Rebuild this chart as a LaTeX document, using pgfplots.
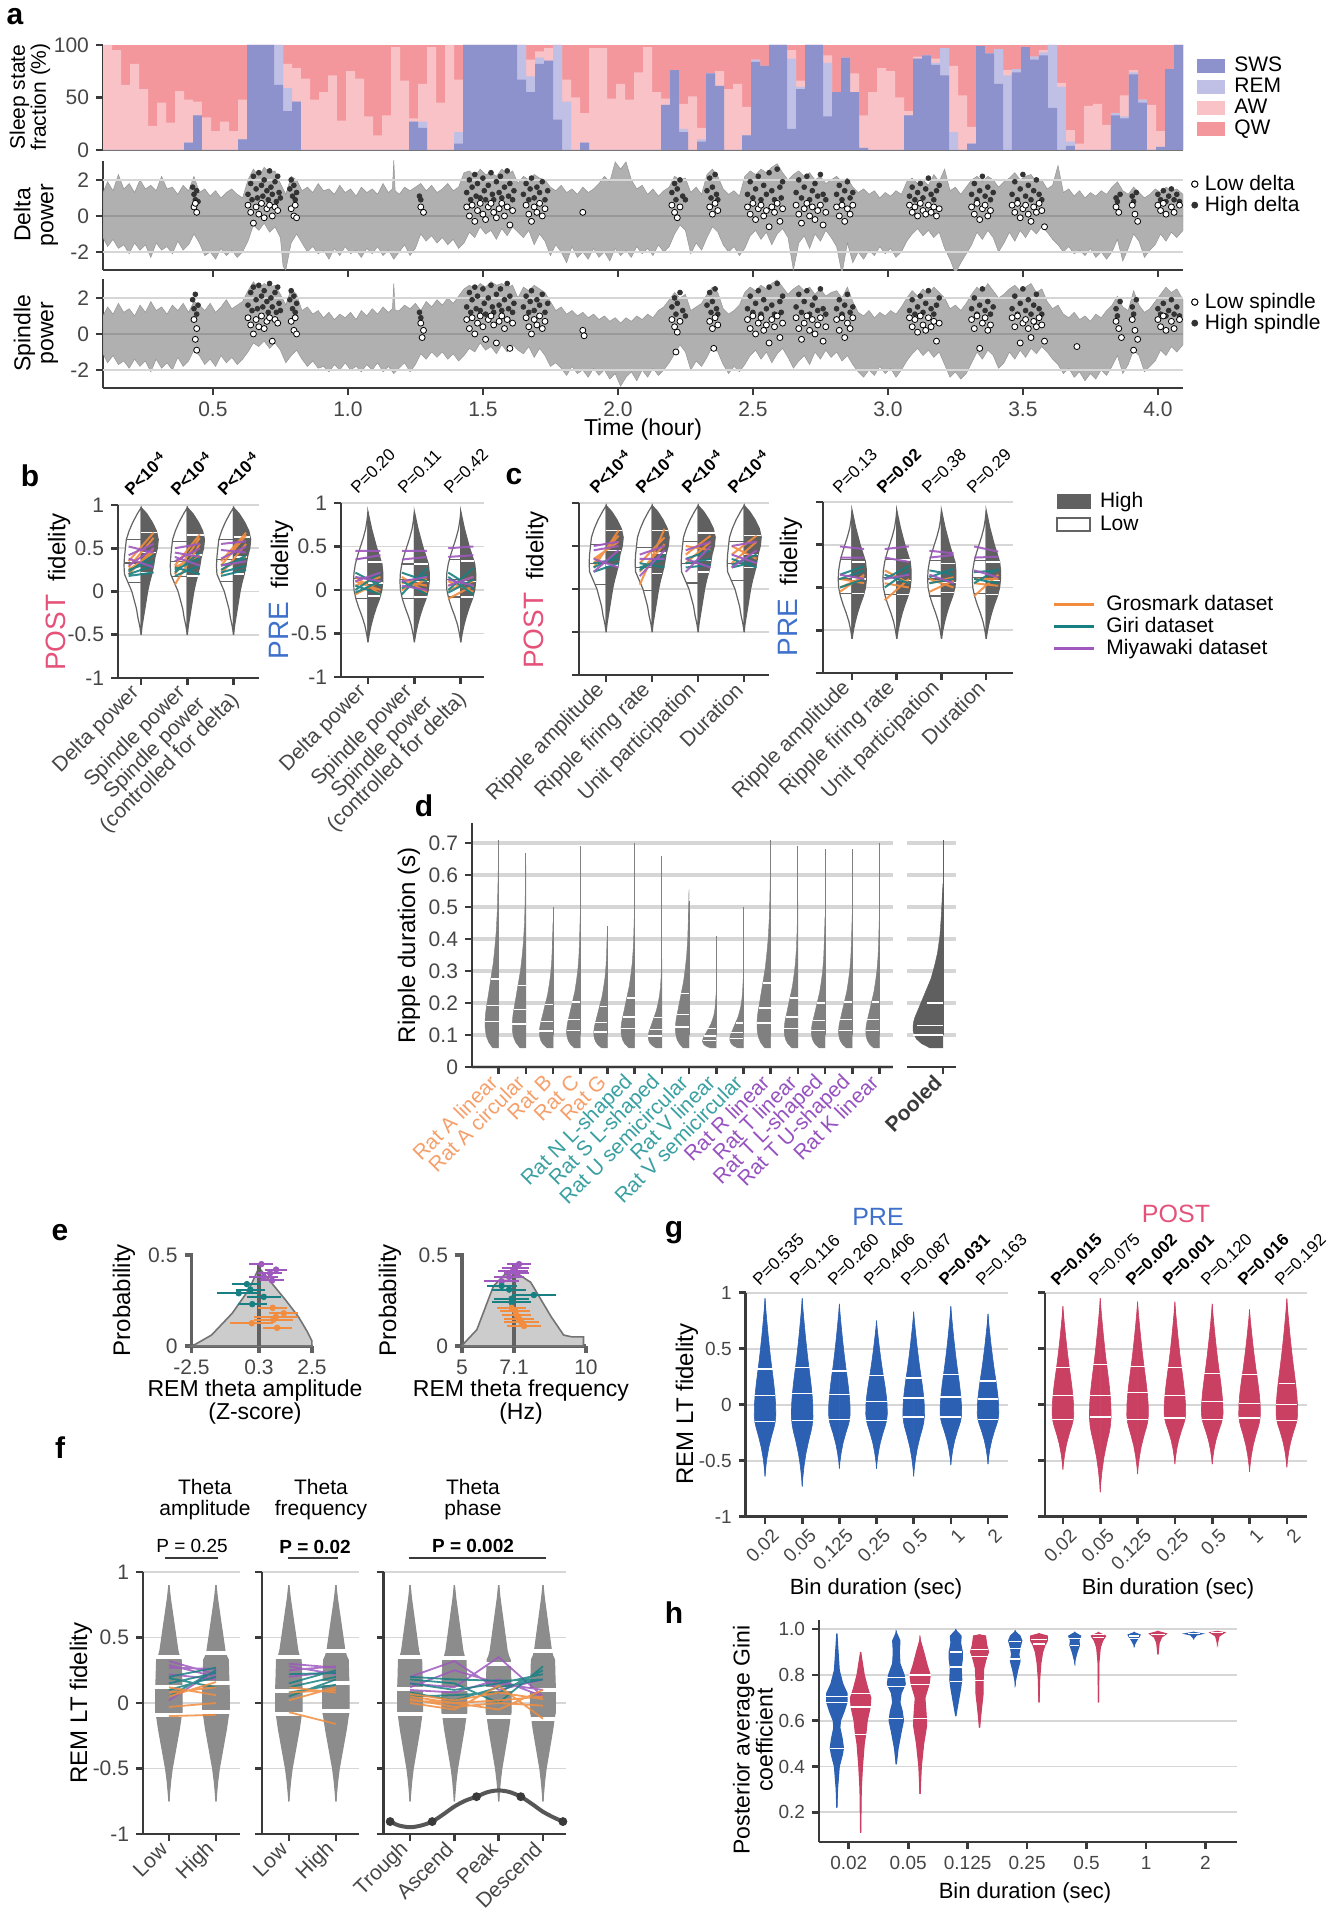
\documentclass[border=0pt]{standalone}
\usepackage{fontspec}
\setmainfont{Liberation Sans}
\setsansfont{Liberation Sans}
\usepackage{pgfplots}
\pgfplotsset{compat=1.18}
\usepackage{pgfplotstable}

\definecolor{sws}{RGB}{142,146,204}
\definecolor{rem}{RGB}{192,192,230}
\definecolor{aw}{RGB}{248,194,198}
\definecolor{qw}{RGB}{243,151,156}
\definecolor{trace}{RGB}{176,176,176}
\definecolor{axc}{RGB}{58,58,58}
\definecolor{gridc}{RGB}{214,214,214}
\definecolor{tickc}{RGB}{70,70,70}
\definecolor{orng}{RGB}{242,140,62}
\definecolor{dteal}{RGB}{24,128,130}
\definecolor{purp}{RGB}{158,88,190}
\definecolor{postc}{RGB}{228,82,122}
\definecolor{prec}{RGB}{62,112,204}
\definecolor{gblue}{RGB}{44,96,178}
\definecolor{gpink}{RGB}{202,64,98}
\definecolor{vdark}{RGB}{96,96,96}
\definecolor{vout}{RGB}{100,100,100}
\definecolor{dgrey}{RGB}{128,128,128}
\definecolor{pgrey}{RGB}{95,95,95}
\definecolor{fgrey}{RGB}{140,140,140}
\definecolor{egrey}{RGB}{204,204,204}
\definecolor{eout}{RGB}{115,115,115}
\definecolor{lorng}{RGB}{245,160,108}
\definecolor{lteal}{RGB}{58,160,162}
\definecolor{lpurp}{RGB}{150,82,192}

\newcommand{\fs}[1]{\fontsize{#1}{#1}\selectfont}

\pgfplotsset{
  /pgf/number format/assume math mode=true,
  base/.style={scale only axis, anchor=north west,
    axis x line*=bottom, axis y line*=left,
    axis line style={line width=1.4pt, draw=axc},
    tick style={line width=1.3pt, draw=axc},
    major tick length=3.5pt, tick align=outside,
    tick label style={font=\fs{10.5}, text=tickc},
    ymajorgrids, grid style={line width=0.8pt, draw=gridc},
    unbounded coords=jump, clip=false},
}

\newcommand{\vL}[4]{\addplot[fill=#3, draw=#4, line width=0.6pt] table[x expr=#1-\thisrow{w}, y=y] {#2} -- cycle;}
\newcommand{\vR}[4]{\addplot[fill=#3, draw=#4, line width=0.6pt] table[x expr=#1+\thisrow{w}, y=y] {#2} -- cycle;}
\newcommand{\vF}[3]{\vL{#1}{#2}{#3}{#3}\vR{#1}{#2}{#3}{#3}}
\newcommand{\gV}[4]{%
 \addplot[fill=#4, draw=#4, line width=0.3pt] table[x expr=#1-\thisrow{w}, y expr={ifthenelse(\thisrow{y}>0,\thisrow{y}*#2,-\thisrow{y}*(#3))}] {\gshape} -- cycle;
 \addplot[fill=#4, draw=#4, line width=0.3pt] table[x expr=#1+\thisrow{w}, y expr={ifthenelse(\thisrow{y}>0,\thisrow{y}*#2,-\thisrow{y}*(#3))}] {\gshape} -- cycle;}
\newcommand{\dV}[2]{\addplot[fill=dgrey, draw=dgrey, line width=0.2pt] table[x expr=#1-\thisrow{w}, y expr=0.06+#2*(\thisrow{y}-0.06)] {\dshape} -- cycle;}

% ---------- data ----------
\pgfplotstableread{
sws rem aw
0 0 100
0 0 95
0 0 62
0 0 82
0 0 58
0 0 23
0 0 45
0 0 26
0 0 56
7 7 48
33 33 46
0 0 31
0 0 18
0 0 27
0 0 18
10 10 48
100 100 100
100 100 100
100 100 100
62 100 100
37 59 82
46 46 78
0 0 68
0 0 48
0 0 55
0 0 71
0 0 28
0 0 75
0 0 68
0 0 32
0 0 14
0 0 33
0 0 98
0 0 66
27 27 30
21 27 63
0 0 98
0 0 45
0 0 100
6 17 67
100 100 100
100 100 100
100 100 100
100 100 100
100 100 100
100 100 100
67 100 100
55 70 86
82 88 94
85 85 97
29 100 100
0 46 67
0 0 50
7 7 35
0 0 97
0 0 97
0 0 49
0 0 63
0 0 48
0 0 74
0 0 98
0 0 55
43 43 49
76 76 76
17 20 44
0 0 51
8 10 21
73 73 73
61 61 75
0 0 58
0 0 63
14 14 41
84 86 86
80 80 80
100 100 100
100 100 100
20 87 95
58 60 66
100 100 100
100 100 100
32 83 90
55 55 55
88 88 88
55 55 73
2 2 33
0 0 55
0 0 78
0 0 75
0 0 50
33 33 37
87 87 89
90 90 90
81 83 87
71 97 97
0 17 80
0 0 52
6 6 22
99 99 99
92 92 92
63 96 96
0 71 76
74 77 77
98 98 98
86 89 89
90 93 95
40 100 100
0 60 64
4 8 19
0 0 6
0 0 42
0 0 44
0 0 24
33 35 35
30 32 52
72 74 76
45 48 48
0 0 43
3 3 18
77 77 77
100 100 100
100 100 100
}\sleep

\pgfplotstableread{
y w
0.97 0
0.90 0.08
0.80 0.18
0.70 0.26
0.60 0.32
0.50 0.34
0.40 0.36
0.30 0.37
0.20 0.36
0.10 0.28
0.00 0.20
-0.10 0.15
-0.20 0.10
-0.30 0.07
-0.40 0.03
-0.50 0
}\bpl
\pgfplotstableread{
y w
0.97 0
0.90 0.12
0.80 0.24
0.70 0.33
0.60 0.37
0.50 0.35
0.40 0.30
0.30 0.27
0.20 0.23
0.10 0.18
0.00 0.14
-0.10 0.11
-0.20 0.08
-0.30 0.05
-0.40 0.02
-0.50 0
}\bph
\pgfplotstableread{
y w
0.90 0
0.80 0.02
0.70 0.05
0.60 0.10
0.50 0.16
0.40 0.22
0.30 0.27
0.20 0.30
0.10 0.31
0.00 0.30
-0.10 0.26
-0.20 0.20
-0.30 0.13
-0.40 0.07
-0.50 0.03
-0.60 0
}\brl
\pgfplotstableread{
y w
0.90 0
0.80 0.04
0.70 0.08
0.60 0.13
0.50 0.18
0.40 0.24
0.30 0.30
0.20 0.32
0.10 0.32
0.00 0.30
-0.10 0.25
-0.20 0.18
-0.30 0.12
-0.40 0.07
-0.50 0.03
-0.60 0
}\brh
\pgfplotstableread{
y w
0.06 0
0.06 0.22
0.07 0.36
0.08 0.44
0.09 0.48
0.10 0.50
0.11 0.50
0.12 0.49
0.13 0.47
0.14 0.44
0.15 0.41
0.16 0.38
0.18 0.32
0.20 0.26
0.22 0.20
0.25 0.14
0.28 0.09
0.32 0.05
0.36 0.03
0.40 0.015
0.44 0
}\dshape
\pgfplotstableread{
y w
0.90 0
0.80 0.03
0.70 0.07
0.60 0.11
0.50 0.15
0.40 0.19
0.36 0.22
0.33 0.26
0.20 0.27
0.10 0.28
0.00 0.28
-0.07 0.28
-0.10 0.26
-0.20 0.22
-0.30 0.17
-0.40 0.12
-0.50 0.07
-0.60 0.035
-0.70 0.01
-0.75 0
}\fshape
\pgfplotstableread{
y w
1.0 0
0.9 0.02
0.8 0.045
0.65 0.085
0.5 0.13
0.38 0.17
0.3 0.2
0.2 0.235
0.1 0.265
0.0 0.285
-0.15 0.29
-0.25 0.27
-0.32 0.24
-0.45 0.17
-0.6 0.1
-0.75 0.05
-0.9 0.015
-1.0 0
}\gshape
\pgfplotstableread{
y w
0.22 0
0.30 0.01
0.40 0.04
0.45 0.09
0.48 0.11
0.52 0.09
0.57 0.05
0.60 0.06
0.64 0.12
0.68 0.17
0.72 0.17
0.76 0.10
0.82 0.04
0.90 0.02
0.98 0
}\hba
\pgfplotstableread{
y w
0.11 0
0.30 0.01
0.40 0.03
0.50 0.06
0.55 0.09
0.60 0.11
0.66 0.16
0.70 0.17
0.74 0.12
0.80 0.06
0.85 0.03
0.90 0
}\hpa
\pgfplotstableread{
y w
0.41 0
0.48 0.03
0.55 0.08
0.60 0.12
0.64 0.10
0.68 0.06
0.72 0.08
0.76 0.15
0.80 0.13
0.85 0.06
0.90 0.05
0.95 0.06
0.985 0
}\hbb
\pgfplotstableread{
y w
0.28 0
0.40 0.02
0.50 0.06
0.58 0.11
0.63 0.10
0.70 0.08
0.76 0.15
0.80 0.17
0.84 0.12
0.90 0.06
0.955 0
}\hpb
\pgfplotstableread{
y w
0.62 0
0.68 0.04
0.74 0.08
0.78 0.10
0.83 0.09
0.87 0.11
0.90 0.11
0.94 0.08
0.97 0.09
0.995 0
}\hbc
\pgfplotstableread{
y w
0.57 0
0.65 0.03
0.72 0.06
0.78 0.06
0.83 0.07
0.88 0.12
0.90 0.15
0.93 0.12
0.97 0.10
0.975 0
}\hpc
\pgfplotstableread{
y w
0.77 0
0.82 0.04
0.86 0.08
0.89 0.06
0.92 0.08
0.95 0.11
0.97 0.08
0.99 0
}\hbd
\pgfplotstableread{
y w
0.68 0
0.78 0.01
0.85 0.03
0.90 0.06
0.93 0.10
0.95 0.14
0.97 0.14
0.98 0
}\hpd
\pgfplotstableread{
y w
0.86 0
0.90 0.04
0.93 0.08
0.95 0.07
0.97 0.10
0.985 0
}\hbe
\pgfplotstableread{
y w
0.68 0
0.85 0.005
0.92 0.03
0.95 0.07
0.97 0.12
0.985 0
}\hpe
\pgfplotstableread{
y w
0.93 0
0.95 0.04
0.965 0.08
0.975 0.10
0.985 0
}\hbf
\pgfplotstableread{
y w
0.89 0
0.94 0.02
0.965 0.06
0.98 0.14
0.99 0
}\hpf
\pgfplotstableread{
y w
0.96 0
0.975 0.05
0.98 0.14
0.986 0
}\hbg
\pgfplotstableread{
y w
0.94 0
0.97 0.03
0.985 0.12
0.99 0
}\hpg

\begin{document}
\begin{tikzpicture}[x=0.5pt,y=-0.5pt]
\useasboundingbox (0,0) rectangle (1338,1920);

% ================= PANEL A =================
\begin{axis}[base, at={(51.5pt,-22.5pt)}, width=540pt, height=52.5pt,
  xmin=0.093, xmax=4.093, ymin=0, ymax=100, xtick=\empty, ytick={0,50,100},
  ymajorgrids=false, clip=true, x axis line style={line width=0.8pt, draw=axc!70},
  legend style={at={(1.0074,0.94)}, anchor=north west, draw=none, fill=none, font=\fs{10.5},
    row sep=0.5pt, column sep=4pt, nodes={inner sep=0.5pt, text height=7.5pt, text depth=1.5pt}},
  legend cell align=left,
  legend image code/.code={\fill[#1] (0pt,-3.5pt) rectangle (14pt,3.5pt);}]
\addlegendimage{fill=sws, draw=none}\addlegendentry{SWS}
\addlegendimage{fill=rem, draw=none}\addlegendentry{REM}
\addlegendimage{fill=aw, draw=none}\addlegendentry{AW}
\addlegendimage{fill=qw, draw=none}\addlegendentry{QW}
\addplot[fill=qw, draw=none] coordinates {(0.093,100) (4.1,100)} \closedcycle;
\addplot[fill=aw, draw=none, const plot mark left] table[x expr=0.093+\coordindex/30, y=aw] {\sleep} \closedcycle;
\addplot[fill=rem, draw=none, const plot mark left] table[x expr=0.093+\coordindex/30, y=rem] {\sleep} \closedcycle;
\addplot[fill=sws, draw=none, const plot mark left] table[x expr=0.093+\coordindex/30, y=sws] {\sleep} \closedcycle;
\end{axis}

\begin{axis}[base, at={(51.5pt,-80.5pt)}, width=540pt, height=54.5pt,
  xmin=0.093, xmax=4.093, ymin=-3, ymax=3.05,
  xtick={0.5,1.0,1.5,2.0,2.5,3.0,3.5,4.0}, xticklabels={}, ytick={-2,0,2}, yticklabels={-2,0,2},
  ymajorgrids=false, clip=true,
  legend style={at={(1.002,0.92)}, anchor=north west, draw=none, fill=none, font=\fs{10.5},
    row sep=0.5pt, column sep=3pt, nodes={inner sep=0.5pt, text height=7.5pt, text depth=1.5pt}},
  legend cell align=left]
\addlegendimage{only marks, mark=*, mark size=1.6pt, mark options={fill=white, draw=black, line width=0.5pt}}\addlegendentry{Low delta}
\addlegendimage{only marks, mark=*, mark size=1.5pt, black!80}\addlegendentry{High delta}
\addplot[fill=trace, draw=trace!85!black, line width=0.25pt] coordinates {
(0.093,1.3)(0.11,1.9)(0.13,1.4)(0.15,2.3)(0.17,1.5)(0.19,1.8)(0.21,1.3)(0.23,2.0)(0.25,1.5)(0.27,1.7)(0.29,1.4)(0.31,2.2)(0.33,1.5)(0.35,1.6)(0.37,1.2)(0.39,1.7)(0.41,1.4)(0.43,2.2)(0.45,1.3)(0.47,1.5)(0.49,1.1)(0.51,1.4)(0.53,1.0)(0.55,1.3)(0.57,1.5)(0.59,1.2)(0.61,1.0)(0.63,2.0)(0.65,2.6)(0.67,2.2)(0.69,2.7)(0.71,2.4)(0.73,2.5)(0.75,1.8)(0.77,1.2)(0.79,2.2)(0.81,2.0)(0.83,1.4)(0.85,1.6)(0.87,1.3)(0.89,1.8)(0.91,1.4)(0.93,1.5)(0.95,1.2)(0.97,1.7)(0.99,1.3)(1.01,1.5)(1.03,1.1)(1.05,1.6)(1.07,1.3)(1.09,1.5)(1.11,1.2)(1.13,1.8)(1.15,1.3)(1.165,1.5)(1.17,3.1)(1.175,1.4)(1.19,1.2)(1.21,1.6)(1.23,1.4)(1.25,1.6)(1.27,1.8)(1.29,1.4)(1.31,1.7)(1.33,1.3)(1.35,1.5)(1.37,1.8)(1.39,1.4)(1.41,1.6)(1.43,2.4)(1.45,2.5)(1.47,2.2)(1.49,2.6)(1.51,2.3)(1.53,2.4)(1.55,2.2)(1.57,2.6)(1.59,2.3)(1.61,2.5)(1.63,1.8)(1.65,2.2)(1.67,2.0)(1.69,2.3)(1.71,2.1)(1.73,2.0)(1.75,1.6)(1.77,1.4)(1.79,1.7)(1.81,1.3)(1.83,1.5)(1.85,1.2)(1.87,1.6)(1.89,1.3)(1.91,1.5)(1.93,1.8)(1.95,2.2)(1.97,1.9)(1.99,3.0)(2.01,2.6)(2.03,3.0)(2.05,2.0)(2.07,1.5)(2.09,1.7)(2.11,1.2)(2.13,1.5)(2.15,1.1)(2.17,1.4)(2.19,1.6)(2.21,2.2)(2.23,2.0)(2.25,2.1)(2.27,1.3)(2.29,1.6)(2.31,1.2)(2.33,2.3)(2.35,2.6)(2.37,2.2)(2.39,1.5)(2.41,1.2)(2.43,1.4)(2.45,1.1)(2.47,2.2)(2.49,2.5)(2.51,2.3)(2.53,2.6)(2.55,2.4)(2.57,2.7)(2.59,2.9)(2.61,2.4)(2.63,2.0)(2.65,2.3)(2.67,2.5)(2.69,2.2)(2.71,2.4)(2.73,2.0)(2.75,2.2)(2.77,1.8)(2.79,2.0)(2.81,2.2)(2.83,1.9)(2.85,2.1)(2.87,1.6)(2.89,1.3)(2.91,1.5)(2.93,1.2)(2.95,1.4)(2.97,1.0)(2.99,1.3)(3.01,1.1)(3.03,1.4)(3.05,1.2)(3.07,1.9)(3.09,2.1)(3.11,1.8)(3.13,2.0)(3.15,1.7)(3.17,2.3)(3.19,1.9)(3.21,2.6)(3.23,1.4)(3.25,1.6)(3.27,1.2)(3.29,1.6)(3.31,2.0)(3.33,2.2)(3.35,1.9)(3.37,2.2)(3.39,2.0)(3.41,1.6)(3.43,1.9)(3.45,2.1)(3.47,2.4)(3.49,2.0)(3.51,2.2)(3.53,2.3)(3.55,1.9)(3.57,2.0)(3.59,1.5)(3.61,1.7)(3.63,2.8)(3.65,1.3)(3.67,1.5)(3.69,1.1)(3.71,1.4)(3.73,1.0)(3.75,1.3)(3.77,1.1)(3.79,1.4)(3.81,1.2)(3.83,1.6)(3.85,1.9)(3.87,1.4)(3.89,1.2)(3.91,1.6)(3.93,1.3)(3.95,1.0)(3.97,1.2)(3.99,1.5)(4.01,1.3)(4.03,1.6)(4.05,1.4)(4.07,1.5)(4.093,1.2)
(4.093,-0.8)(4.07,-1.2)(4.05,-0.9)(4.03,-1.4)(4.01,-1.0)(3.99,-1.6)(3.97,-1.9)(3.95,-2.3)(3.93,-1.4)(3.91,-1.0)(3.89,-1.8)(3.87,-2.5)(3.85,-1.3)(3.83,-2.0)(3.81,-2.4)(3.79,-2.0)(3.77,-2.3)(3.75,-1.8)(3.73,-2.2)(3.71,-1.9)(3.69,-2.1)(3.67,-1.7)(3.65,-2.0)(3.63,-1.6)(3.61,-1.3)(3.59,-0.9)(3.57,-0.6)(3.55,-1.0)(3.53,-0.7)(3.51,-1.2)(3.49,-0.8)(3.47,-1.4)(3.45,-0.9)(3.43,-1.5)(3.41,-2.0)(3.39,-1.2)(3.37,-0.8)(3.35,-1.3)(3.33,-0.9)(3.31,-1.6)(3.29,-2.1)(3.27,-2.6)(3.25,-3.2)(3.23,-2.4)(3.21,-1.8)(3.19,-0.9)(3.17,-1.2)(3.15,-0.8)(3.13,-1.1)(3.11,-0.7)(3.09,-1.0)(3.07,-1.4)(3.05,-2.0)(3.03,-2.3)(3.01,-1.8)(2.99,-2.1)(2.97,-1.7)(2.95,-2.2)(2.93,-1.9)(2.91,-2.4)(2.89,-2.0)(2.87,-2.6)(2.85,-1.5)(2.83,-3.2)(2.81,-1.7)(2.79,-1.2)(2.77,-0.8)(2.75,-1.4)(2.73,-1.0)(2.71,-1.8)(2.69,-1.1)(2.67,-1.5)(2.65,-3.0)(2.63,-1.2)(2.61,-0.7)(2.59,-1.0)(2.57,-1.6)(2.55,-0.9)(2.53,-1.3)(2.51,-0.8)(2.49,-1.1)(2.47,-1.8)(2.45,-2.2)(2.43,-1.7)(2.41,-2.0)(2.39,-1.6)(2.37,-0.9)(2.35,-0.6)(2.33,-1.2)(2.31,-1.9)(2.29,-1.5)(2.27,-2.1)(2.25,-0.8)(2.23,-0.5)(2.21,-1.0)(2.19,-1.7)(2.17,-2.0)(2.15,-1.6)(2.13,-2.2)(2.11,-1.8)(2.09,-2.1)(2.07,-1.7)(2.05,-2.3)(2.03,-1.9)(2.01,-2.2)(1.99,-1.8)(1.97,-2.5)(1.95,-2.0)(1.93,-2.3)(1.91,-1.8)(1.89,-2.4)(1.87,-2.0)(1.85,-2.3)(1.83,-1.7)(1.81,-2.6)(1.79,-2.0)(1.77,-1.6)(1.75,-2.2)(1.73,-1.4)(1.71,-1.0)(1.69,-1.6)(1.67,-0.8)(1.65,-1.2)(1.63,-0.9)(1.61,-0.6)(1.59,-1.1)(1.57,-0.7)(1.55,-1.3)(1.53,-0.8)(1.51,-1.0)(1.49,-0.6)(1.47,-1.2)(1.45,-0.9)(1.43,-1.5)(1.41,-1.8)(1.39,-1.3)(1.37,-1.6)(1.35,-1.2)(1.33,-1.5)(1.31,-1.1)(1.29,-1.4)(1.27,-1.0)(1.25,-1.8)(1.23,-2.2)(1.21,-1.6)(1.19,-2.0)(1.17,-2.4)(1.15,-1.9)(1.13,-2.2)(1.11,-1.7)(1.09,-2.1)(1.07,-1.8)(1.05,-2.3)(1.03,-1.9)(1.01,-2.1)(0.99,-1.7)(0.97,-2.2)(0.95,-1.8)(0.93,-2.4)(0.91,-1.9)(0.89,-2.1)(0.87,-1.7)(0.85,-2.0)(0.83,-1.5)(0.81,-1.0)(0.79,-1.5)(0.77,-3.0)(0.76,-2.8)(0.75,-1.2)(0.73,-0.6)(0.71,-0.9)(0.69,-0.4)(0.67,-0.8)(0.65,-0.5)(0.63,-1.4)(0.61,-2.0)(0.59,-2.3)(0.57,-1.9)(0.55,-2.2)(0.53,-1.8)(0.51,-2.4)(0.49,-2.0)(0.47,-2.2)(0.45,-1.5)(0.43,-1.0)(0.41,-1.6)(0.39,-1.9)(0.37,-1.4)(0.35,-2.1)(0.33,-1.7)(0.31,-1.9)(0.29,-1.5)(0.27,-2.3)(0.25,-1.6)(0.23,-1.9)(0.21,-1.5)(0.19,-2.1)(0.17,-1.6)(0.15,-1.8)(0.13,-1.3)(0.11,-1.7)(0.093,-1.2)} -- cycle;
\addplot[gridc, line width=0.8pt] coordinates {(0.093,2)(4.093,2)};
\addplot[gridc, line width=0.8pt] coordinates {(0.093,-2)(4.093,-2)};
\addplot[black!40, line width=0.8pt] coordinates {(0.093,0)(4.093,0)};
\addplot[only marks, mark=*, mark size=1.2pt, black!80] coordinates {
(0.425,1.6)(0.43,1.2)(0.435,0.9)(0.44,1.4)(0.445,0.8)
(0.63,1.2)(0.64,1.8)(0.645,0.9)(0.65,2.2)(0.66,1.5)(0.665,1.0)(0.67,2.4)(0.68,1.7)(0.685,1.1)(0.69,2.0)(0.70,1.4)(0.705,0.9)(0.71,2.5)(0.715,1.6)(0.72,1.2)(0.73,1.9)(0.735,0.8)(0.74,2.2)(0.745,1.3)(0.75,1.0)
(0.785,1.5)(0.79,2.0)(0.795,1.1)(0.80,1.7)(0.805,0.9)(0.81,1.3)(1.265,1.1)(1.27,0.9)
(1.44,1.3)(1.45,2.0)(1.455,0.9)(1.46,1.6)(1.47,2.3)(1.475,1.1)(1.48,1.8)(1.49,1.0)(1.50,2.1)(1.505,1.4)(1.51,0.9)(1.52,1.7)(1.53,2.4)(1.535,1.2)(1.54,0.9)(1.55,1.9)(1.56,1.3)(1.565,2.2)(1.57,1.0)(1.58,1.6)(1.59,2.5)(1.595,1.1)(1.60,1.8)(1.61,0.9)(1.615,1.4)
(1.65,1.2)(1.66,1.8)(1.67,0.9)(1.675,1.5)(1.68,2.1)(1.69,1.0)(1.70,1.6)(1.71,1.3)(1.72,1.9)(1.73,0.9)(1.74,1.4)
(2.20,1.3)(2.21,1.8)(2.215,0.9)(2.22,1.5)(2.23,2.0)(2.24,1.1)(2.25,0.9)(2.33,1.4)(2.34,2.1)(2.345,1.0)(2.35,1.6)(2.36,2.3)(2.365,1.2)(2.37,0.9)
(2.48,1.2)(2.49,1.9)(2.50,1.0)(2.51,1.5)(2.52,2.2)(2.53,0.9)(2.54,1.7)(2.55,1.2)(2.56,2.4)(2.57,1.4)(2.58,0.9)(2.59,2.6)(2.60,1.6)(2.605,1.0)(2.61,1.9)
(2.66,1.3)(2.67,2.0)(2.68,1.0)(2.69,1.6)(2.70,2.2)(2.71,0.9)(2.72,1.4)(2.73,1.8)(2.74,1.1)(2.75,2.3)(2.76,1.2)(2.77,0.9)
(2.81,1.2)(2.82,1.7)(2.83,0.9)(2.84,1.4)(2.85,1.9)(2.86,1.0)(2.87,1.3)
(3.08,1.1)(3.09,1.6)(3.10,0.9)(3.11,1.3)(3.12,1.8)(3.13,1.0)(3.14,1.5)(3.15,2.1)(3.16,1.2)(3.17,0.9)(3.18,1.4)(3.19,1.7)
(3.31,1.2)(3.32,1.8)(3.33,0.9)(3.34,1.4)(3.35,2.2)(3.36,1.1)(3.37,1.6)(3.38,0.9)(3.39,1.3)
(3.46,1.2)(3.47,1.9)(3.48,0.9)(3.49,1.5)(3.50,2.3)(3.51,1.1)(3.52,1.7)(3.53,0.9)(3.54,1.4)(3.55,2.0)(3.56,1.2)(3.57,0.9)
(3.845,1.0)(3.85,0.8)(3.86,1.2)(3.905,1.1)(3.91,0.8)(3.92,1.3)
(4.00,1.2)(4.01,0.9)(4.02,1.4)(4.03,0.8)(4.04,1.1)(4.05,1.5)(4.06,0.9)(4.07,1.2)(4.08,0.8)};
\addplot[only marks, mark=*, mark size=1.5pt, mark options={fill=white, draw=black, line width=0.4pt}] coordinates {
(0.43,0.5)(0.44,0.2)(0.435,0.7)
(0.63,0.6)(0.64,0.2)(0.65,-0.4)(0.66,0.5)(0.67,0.1)(0.68,0.7)(0.69,-0.1)(0.70,0.4)(0.71,0.6)(0.72,0.0)(0.73,0.5)(0.74,0.3)
(0.79,0.4)(0.80,0.0)(0.805,0.6)(0.81,-0.1)(1.27,0.5)(1.28,0.2)
(1.44,0.5)(1.45,0.0)(1.46,0.6)(1.47,-0.3)(1.48,0.3)(1.49,0.7)(1.50,0.1)(1.51,-0.2)(1.52,0.5)(1.53,0.7)(1.54,0.2)(1.55,-0.1)(1.56,0.4)(1.57,0.7)(1.58,0.0)(1.59,0.5)(1.60,-0.5)(1.61,0.3)
(1.66,0.6)(1.67,0.1)(1.68,-0.3)(1.69,0.5)(1.70,0.2)(1.71,0.7)(1.72,0.0)(1.73,0.4)(1.87,0.2)
(2.20,0.6)(2.21,0.2)(2.22,-0.1)(2.23,0.5)(2.34,0.5)(2.35,0.1)(2.36,0.7)(2.37,0.3)
(2.48,0.5)(2.49,0.1)(2.50,0.7)(2.51,-0.2)(2.52,0.4)(2.53,0.6)(2.54,0.0)(2.55,0.3)(2.56,-0.6)(2.57,0.5)(2.58,0.2)(2.59,0.7)(2.60,-0.3)(2.61,0.4)
(2.66,0.6)(2.67,0.1)(2.68,-0.4)(2.69,0.4)(2.70,0.7)(2.71,0.0)(2.72,0.5)(2.73,-0.2)(2.74,0.3)(2.75,0.6)(2.76,-0.5)(2.77,0.2)
(2.81,0.5)(2.82,0.0)(2.83,0.6)(2.84,-0.3)(2.85,0.4)(2.86,0.1)(2.87,0.6)
(3.08,0.6)(3.09,0.2)(3.10,0.5)(3.11,0.0)(3.12,0.7)(3.13,0.3)(3.14,0.1)(3.15,0.6)(3.16,0.2)(3.17,0.5)(3.18,0.0)(3.19,0.4)
(3.31,0.5)(3.32,0.1)(3.33,0.7)(3.34,-0.2)(3.35,0.4)(3.36,0.6)(3.37,0.0)(3.38,0.3)
(3.46,0.6)(3.47,0.2)(3.48,0.7)(3.49,-0.1)(3.50,0.4)(3.51,0.6)(3.52,0.1)(3.53,-0.3)(3.54,0.5)(3.55,0.2)(3.56,0.7)(3.57,0.3)(3.58,-0.6)
(3.845,0.5)(3.855,0.2)(3.905,0.6)(3.915,0.1)(3.925,-0.3)
(4.00,0.6)(4.01,0.3)(4.02,0.7)(4.03,0.1)(4.05,0.5)(4.06,0.2)(4.08,0.6)};
\end{axis}

\begin{axis}[base, at={(51.5pt,-139.5pt)}, width=540pt, height=54.5pt,
  xmin=0.093, xmax=4.093, ymin=-3, ymax=3.05,
  xtick={0.5,1.0,1.5,2.0,2.5,3.0,3.5,4.0}, xticklabels={0.5,1.0,1.5,2.0,2.5,3.0,3.5,4.0},
  ytick={-2,0,2}, yticklabels={-2,0,2}, ymajorgrids=false, clip=true,
  legend style={at={(1.002,0.92)}, anchor=north west, draw=none, fill=none, font=\fs{10.5},
    row sep=0.5pt, column sep=3pt, nodes={inner sep=0.5pt, text height=7.5pt, text depth=1.5pt}},
  legend cell align=left]
\addlegendimage{only marks, mark=*, mark size=1.6pt, mark options={fill=white, draw=black, line width=0.5pt}}\addlegendentry{Low spindle}
\addlegendimage{only marks, mark=*, mark size=1.5pt, black!80}\addlegendentry{High spindle}
\addplot[fill=trace, draw=trace!85!black, line width=0.25pt] coordinates {
(0.093,1.0)(0.11,1.5)(0.13,1.1)(0.15,1.7)(0.17,1.2)(0.19,1.4)(0.21,1.0)(0.23,1.6)(0.25,1.2)(0.27,1.8)(0.29,1.3)(0.31,1.5)(0.33,1.1)(0.35,1.6)(0.37,1.3)(0.39,1.7)(0.41,1.2)(0.43,1.8)(0.45,1.6)(0.47,1.3)(0.49,1.7)(0.51,1.2)(0.53,1.5)(0.55,1.9)(0.57,1.4)(0.59,1.6)(0.61,1.8)(0.63,2.4)(0.65,2.9)(0.67,2.5)(0.69,2.8)(0.71,2.6)(0.73,2.7)(0.75,2.2)(0.77,1.6)(0.79,2.5)(0.81,2.2)(0.83,1.3)(0.85,1.5)(0.87,1.1)(0.89,1.3)(0.91,0.9)(0.93,1.2)(0.95,0.8)(0.97,1.1)(0.99,0.9)(1.01,1.2)(1.03,0.8)(1.05,1.3)(1.07,1.0)(1.09,1.4)(1.11,1.1)(1.13,1.5)(1.15,1.2)(1.165,1.4)(1.17,2.8)(1.175,1.3)(1.19,1.3)(1.21,1.6)(1.23,1.4)(1.25,1.7)(1.27,1.3)(1.29,1.8)(1.31,1.5)(1.33,1.9)(1.35,1.6)(1.37,2.0)(1.39,1.7)(1.41,2.1)(1.43,2.5)(1.45,2.7)(1.47,2.5)(1.49,2.8)(1.51,2.6)(1.53,2.9)(1.55,2.7)(1.57,2.8)(1.59,2.6)(1.61,2.7)(1.63,2.0)(1.65,2.6)(1.67,2.4)(1.69,2.7)(1.71,2.5)(1.73,2.3)(1.75,1.8)(1.77,1.3)(1.79,1.5)(1.81,1.1)(1.83,1.3)(1.85,1.0)(1.87,1.2)(1.89,0.9)(1.91,1.1)(1.93,0.8)(1.95,1.0)(1.97,0.7)(1.99,0.9)(2.01,0.6)(2.03,0.9)(2.05,0.7)(2.07,1.0)(2.09,0.8)(2.11,1.1)(2.13,0.9)(2.15,1.3)(2.17,1.5)(2.19,1.9)(2.21,2.3)(2.23,2.0)(2.25,2.2)(2.27,1.3)(2.29,1.5)(2.31,1.7)(2.33,2.2)(2.35,2.6)(2.37,2.3)(2.39,1.4)(2.41,1.1)(2.43,1.3)(2.45,1.6)(2.47,2.3)(2.49,2.6)(2.51,2.4)(2.53,2.7)(2.55,2.5)(2.57,2.8)(2.59,3.0)(2.61,2.6)(2.63,2.2)(2.65,2.5)(2.67,2.7)(2.69,2.4)(2.71,2.6)(2.73,2.2)(2.75,2.5)(2.77,2.1)(2.79,2.3)(2.81,2.4)(2.83,2.0)(2.85,2.6)(2.87,1.8)(2.89,1.2)(2.91,1.0)(2.93,1.3)(2.95,0.9)(2.97,1.2)(2.99,1.0)(3.01,1.3)(3.03,1.1)(3.05,1.5)(3.07,2.0)(3.09,2.4)(3.11,2.1)(3.13,2.5)(3.15,2.2)(3.17,2.6)(3.19,2.3)(3.21,2.0)(3.23,1.4)(3.25,1.6)(3.27,1.3)(3.29,1.7)(3.31,2.2)(3.33,2.6)(3.35,2.3)(3.37,2.8)(3.39,2.4)(3.41,2.0)(3.43,2.2)(3.45,2.5)(3.47,2.7)(3.49,2.4)(3.51,2.6)(3.53,2.8)(3.55,2.3)(3.57,2.5)(3.59,1.8)(3.61,1.4)(3.63,1.6)(3.65,1.1)(3.67,0.9)(3.69,1.2)(3.71,0.8)(3.73,1.0)(3.75,0.7)(3.77,1.1)(3.79,0.9)(3.81,1.3)(3.83,1.6)(3.85,2.1)(3.87,1.5)(3.89,1.3)(3.91,2.4)(3.93,1.6)(3.95,1.2)(3.97,1.4)(3.99,1.8)(4.01,2.2)(4.03,2.6)(4.05,2.3)(4.07,2.5)(4.093,1.9)
(4.093,-0.6)(4.07,-1.0)(4.05,-0.7)(4.03,-1.2)(4.01,-0.9)(3.99,-1.5)(3.97,-1.8)(3.95,-2.1)(3.93,-1.2)(3.91,-0.9)(3.89,-1.7)(3.87,-2.2)(3.85,-1.2)(3.83,-1.8)(3.81,-2.3)(3.79,-2.0)(3.77,-2.5)(3.75,-2.2)(3.73,-2.6)(3.71,-2.1)(3.69,-2.4)(3.67,-1.9)(3.65,-2.2)(3.63,-1.7)(3.61,-1.4)(3.59,-1.0)(3.57,-0.7)(3.55,-1.1)(3.53,-0.8)(3.51,-1.3)(3.49,-0.9)(3.47,-1.4)(3.45,-1.0)(3.43,-1.6)(3.41,-1.9)(3.39,-1.2)(3.37,-0.9)(3.35,-1.4)(3.33,-1.0)(3.31,-1.6)(3.29,-2.2)(3.27,-2.5)(3.25,-2.1)(3.23,-2.4)(3.21,-1.7)(3.19,-1.0)(3.17,-1.3)(3.15,-0.9)(3.13,-1.2)(3.11,-0.8)(3.09,-1.1)(3.07,-1.5)(3.05,-2.0)(3.03,-2.4)(3.01,-1.9)(2.99,-2.2)(2.97,-1.8)(2.95,-2.3)(2.93,-2.0)(2.91,-2.4)(2.89,-2.1)(2.87,-1.7)(2.85,-1.2)(2.83,-1.5)(2.81,-1.0)(2.79,-1.3)(2.77,-0.9)(2.75,-1.4)(2.73,-1.0)(2.71,-1.7)(2.69,-1.2)(2.67,-1.5)(2.65,-1.9)(2.63,-1.3)(2.61,-0.8)(2.59,-1.1)(2.57,-1.6)(2.55,-1.0)(2.53,-1.4)(2.51,-0.9)(2.49,-1.2)(2.47,-1.7)(2.45,-2.1)(2.43,-1.8)(2.41,-2.2)(2.39,-1.7)(2.37,-1.0)(2.35,-0.7)(2.33,-1.3)(2.31,-1.8)(2.29,-1.5)(2.27,-2.0)(2.25,-1.0)(2.23,-0.6)(2.21,-1.1)(2.19,-1.6)(2.17,-2.0)(2.15,-2.3)(2.13,-1.9)(2.11,-2.4)(2.09,-2.0)(2.07,-2.6)(2.05,-2.1)(2.03,-2.4)(2.01,-2.9)(1.99,-2.2)(1.97,-2.5)(1.95,-2.0)(1.93,-2.3)(1.91,-1.9)(1.89,-2.4)(1.87,-2.0)(1.85,-2.2)(1.83,-1.8)(1.81,-2.3)(1.79,-1.9)(1.77,-1.6)(1.75,-1.8)(1.73,-1.2)(1.71,-0.8)(1.69,-1.3)(1.67,-0.7)(1.65,-1.1)(1.63,-0.9)(1.61,-0.6)(1.59,-1.0)(1.57,-0.6)(1.55,-1.1)(1.53,-0.7)(1.51,-0.9)(1.49,-0.5)(1.47,-1.0)(1.45,-0.8)(1.43,-1.2)(1.41,-1.5)(1.39,-1.1)(1.37,-1.4)(1.35,-1.0)(1.33,-1.3)(1.31,-1.0)(1.29,-1.4)(1.27,-1.1)(1.25,-1.7)(1.23,-2.1)(1.21,-1.6)(1.19,-1.9)(1.17,-2.2)(1.15,-1.8)(1.13,-2.1)(1.11,-1.6)(1.09,-2.0)(1.07,-1.7)(1.05,-2.1)(1.03,-1.8)(1.01,-2.0)(0.99,-1.6)(0.97,-2.0)(0.95,-1.7)(0.93,-2.1)(0.91,-1.8)(0.89,-1.9)(0.87,-1.5)(0.85,-1.8)(0.83,-1.4)(0.81,-0.9)(0.79,-1.2)(0.77,-1.6)(0.75,-0.9)(0.73,-0.5)(0.71,-0.8)(0.69,-0.4)(0.67,-0.7)(0.65,-0.5)(0.63,-1.0)(0.61,-1.4)(0.59,-1.7)(0.57,-1.3)(0.55,-1.6)(0.53,-1.2)(0.51,-1.8)(0.49,-1.4)(0.47,-1.7)(0.45,-1.2)(0.43,-0.9)(0.41,-1.5)(0.39,-1.8)(0.37,-1.3)(0.35,-2.0)(0.33,-1.6)(0.31,-1.9)(0.29,-1.4)(0.27,-2.1)(0.25,-1.5)(0.23,-1.8)(0.21,-1.4)(0.19,-1.9)(0.17,-1.5)(0.15,-1.7)(0.13,-1.2)(0.11,-1.6)(0.093,-1.1)} -- cycle;
\addplot[gridc, line width=0.8pt] coordinates {(0.093,2)(4.093,2)};
\addplot[gridc, line width=0.8pt] coordinates {(0.093,-2)(4.093,-2)};
\addplot[black!40, line width=0.8pt] coordinates {(0.093,0)(4.093,0)};
\addplot[only marks, mark=*, mark size=1.2pt, black!80] coordinates {
(0.425,1.9)(0.43,1.4)(0.435,2.2)(0.44,1.1)(0.445,1.6)
(0.63,1.6)(0.64,2.3)(0.645,1.3)(0.65,2.6)(0.66,1.9)(0.665,1.4)(0.67,2.7)(0.68,2.1)(0.685,1.5)(0.69,2.4)(0.70,1.8)(0.705,1.2)(0.71,2.8)(0.715,2.0)(0.72,1.5)(0.73,2.3)(0.735,1.2)(0.74,2.6)(0.745,1.7)(0.75,1.3)
(0.785,1.9)(0.79,2.4)(0.795,1.4)(0.80,2.1)(0.805,1.2)(0.81,1.7)(1.265,1.2)(1.27,0.9)
(1.44,1.5)(1.45,2.3)(1.455,1.2)(1.46,1.9)(1.47,2.6)(1.475,1.4)(1.48,2.1)(1.49,1.3)(1.50,2.5)(1.505,1.7)(1.51,1.1)(1.52,2.0)(1.53,2.7)(1.535,1.5)(1.54,1.2)(1.55,2.2)(1.56,1.6)(1.565,2.5)(1.57,1.3)(1.58,1.9)(1.59,2.8)(1.595,1.4)(1.60,2.1)(1.61,1.2)(1.615,1.7)
(1.65,1.5)(1.66,2.1)(1.67,1.2)(1.675,1.8)(1.68,2.4)(1.69,1.3)(1.70,1.9)(1.71,1.6)(1.72,2.2)(1.73,1.2)(1.74,1.7)
(2.20,1.5)(2.21,2.0)(2.215,1.1)(2.22,1.7)(2.23,2.3)(2.24,1.3)(2.25,1.0)(2.33,1.6)(2.34,2.3)(2.345,1.2)(2.35,1.8)(2.36,2.5)(2.365,1.4)(2.37,1.1)
(2.48,1.4)(2.49,2.1)(2.50,1.2)(2.51,1.7)(2.52,2.4)(2.53,1.1)(2.54,1.9)(2.55,1.4)(2.56,2.6)(2.57,1.6)(2.58,1.1)(2.59,2.8)(2.60,1.8)(2.605,1.2)(2.61,2.1)
(2.66,1.5)(2.67,2.2)(2.68,1.2)(2.69,1.8)(2.70,2.4)(2.71,1.1)(2.72,1.6)(2.73,2.0)(2.74,1.3)(2.75,2.5)(2.76,1.4)(2.77,1.1)
(2.81,1.4)(2.82,1.9)(2.83,1.1)(2.84,1.6)(2.85,2.2)(2.86,1.2)(2.87,1.5)
(3.08,1.3)(3.09,1.9)(3.10,1.1)(3.11,1.5)(3.12,2.1)(3.13,1.2)(3.14,1.7)(3.15,2.4)(3.16,1.4)(3.17,1.1)(3.18,1.6)(3.19,2.0)
(3.31,1.4)(3.32,2.0)(3.33,1.1)(3.34,1.6)(3.35,2.5)(3.36,1.3)(3.37,1.8)(3.38,1.1)(3.39,1.5)
(3.46,1.4)(3.47,2.1)(3.48,1.1)(3.49,1.7)(3.50,2.5)(3.51,1.3)(3.52,1.9)(3.53,1.1)(3.54,1.6)(3.55,2.2)(3.56,1.4)(3.57,1.1)
(3.845,1.4)(3.85,1.0)(3.86,1.8)(3.905,1.5)(3.91,1.1)(3.92,1.9)
(4.00,1.4)(4.01,1.1)(4.02,1.7)(4.03,1.0)(4.04,1.3)(4.05,1.9)(4.06,1.1)(4.07,1.5)(4.08,1.0)};
\addplot[only marks, mark=*, mark size=1.5pt, mark options={fill=white, draw=black, line width=0.4pt}] coordinates {
(0.43,0.8)(0.44,0.3)(0.435,-0.3)(0.44,-0.9)
(0.63,0.9)(0.64,0.5)(0.65,0.0)(0.66,0.8)(0.67,0.4)(0.68,1.0)(0.69,0.3)(0.70,0.7)(0.71,0.9)(0.72,-0.4)(0.73,0.8)(0.74,0.6)
(0.79,0.7)(0.80,0.2)(0.805,0.9)(0.81,0.0)(1.27,0.6)(1.28,0.2)(1.275,-0.2)
(1.44,0.8)(1.45,0.3)(1.46,0.9)(1.47,0.0)(1.48,0.6)(1.49,1.0)(1.50,0.4)(1.51,-0.3)(1.52,0.8)(1.53,1.0)(1.54,0.5)(1.55,-0.5)(1.56,0.7)(1.57,1.0)(1.58,0.3)(1.59,0.8)(1.60,-0.8)(1.61,0.6)
(1.66,0.9)(1.67,0.4)(1.68,0.0)(1.69,0.8)(1.70,0.5)(1.71,1.0)(1.72,0.3)(1.73,0.7)(1.87,0.2)(1.875,-0.1)
(2.20,0.8)(2.21,0.4)(2.22,0.1)(2.23,0.7)(2.215,-1.0)(2.34,0.7)(2.35,0.3)(2.36,0.9)(2.37,0.5)(2.355,-0.8)
(2.48,0.8)(2.49,0.3)(2.50,1.0)(2.51,0.0)(2.52,0.6)(2.53,0.9)(2.54,0.2)(2.55,0.5)(2.56,-0.5)(2.57,0.8)(2.58,0.4)(2.59,1.0)(2.60,-0.2)(2.61,0.6)
(2.66,0.9)(2.67,0.3)(2.68,-0.3)(2.69,0.6)(2.70,1.0)(2.71,0.2)(2.72,0.8)(2.73,0.0)(2.74,0.5)(2.75,0.9)(2.76,-0.4)(2.77,0.4)
(2.81,0.8)(2.82,0.2)(2.83,0.9)(2.84,-0.2)(2.85,0.6)(2.86,0.3)(2.87,0.9)
(3.08,0.9)(3.09,0.4)(3.10,0.8)(3.11,0.1)(3.12,1.0)(3.13,0.5)(3.14,0.2)(3.15,0.9)(3.16,0.4)(3.17,0.7)(3.18,-0.4)(3.19,0.6)
(3.31,0.8)(3.32,0.3)(3.33,1.0)(3.34,-0.8)(3.35,0.6)(3.36,0.9)(3.37,0.2)(3.38,0.5)
(3.46,0.9)(3.47,0.4)(3.48,1.0)(3.49,-0.5)(3.50,0.6)(3.51,0.8)(3.52,0.3)(3.53,-0.2)(3.54,0.7)(3.55,0.4)(3.56,0.9)(3.57,0.5)(3.58,-0.4)(3.70,-0.7)
(3.845,0.7)(3.855,0.3)(3.865,-0.2)(3.905,0.8)(3.915,0.2)(3.925,-0.3)(3.91,-0.9)
(4.00,0.8)(4.01,0.4)(4.02,1.0)(4.03,0.2)(4.05,0.7)(4.06,0.3)(4.08,0.8)};
\end{axis}

% ================= PANEL B =================
\begin{axis}[base, at={(59pt,-252.5pt)}, width=70.5pt, height=86.5pt, xmin=0.5, xmax=3.55, ymin=-1, ymax=1,
  xtick={1,2,3}, xticklabels={Delta power, Spindle power, {Spindle power\\(controlled for delta)}},
  xticklabel style={rotate=45, anchor=east, align=center},
  ytick={-1,-0.5,0,0.5,1}, yticklabels={-1,-0.5,0,0.5,1}]
\vL{1}{\bpl}{white}{vout}\vL{2}{\bpl}{white}{vout}\vL{3}{\bpl}{white}{vout}
\vR{1}{\bph}{vdark}{vdark}\vR{2}{\bph}{vdark}{vdark}\vR{3}{\bph}{vdark}{vdark}
\addplot[vout, line width=0.6pt] coordinates {(0.68,0.60)(1,0.60)(1,nan)(0.63,0.33)(1,0.33)(1,nan)(0.72,0.10)(1,0.10)(1,nan)(1.675,0.58)(2,0.58)(1,nan)(1.635,0.35)(2,0.35)(1,nan)(1.66,0.17)(2,0.17)(1,nan)(2.68,0.60)(3,0.60)(1,nan)(2.635,0.37)(3,0.37)(1,nan)(2.70,0.12)(3,0.12)};
\addplot[white, line width=0.8pt] coordinates {(1,0.68)(1.34,0.68)(1,nan)(1,0.45)(1.33,0.45)(1,nan)(1,0.22)(1.24,0.22)(1,nan)(2,0.65)(2.36,0.65)(1,nan)(2,0.42)(2.31,0.42)(1,nan)(2,0.18)(2.22,0.18)(1,nan)(3,0.63)(3.36,0.63)(1,nan)(3,0.40)(3.30,0.40)(1,nan)(3,0.20)(3.23,0.20)};
\addplot[orng, line width=1pt, opacity=0.9] coordinates {(0.73,0.20)(1.27,0.50)(1,nan)(0.73,0.28)(1.27,0.62)(1,nan)(0.73,0.35)(1.27,0.68)(1,nan)(0.73,0.25)(1.27,0.45)(1,nan)(1.73,0.08)(2.27,0.55)(1,nan)(1.73,0.20)(2.27,0.62)(1,nan)(1.73,0.30)(2.27,0.66)(1,nan)(1.73,0.28)(2.27,0.42)(1,nan)(2.73,0.20)(3.27,0.55)(1,nan)(2.73,0.30)(3.27,0.65)(1,nan)(2.73,0.35)(3.27,0.68)(1,nan)(2.73,0.25)(3.27,0.40)};
\addplot[dteal, line width=1pt, opacity=0.9] coordinates {(0.73,0.20)(1.27,0.30)(1,nan)(0.73,0.18)(1.27,0.22)(1,nan)(0.73,0.23)(1.27,0.42)(1,nan)(0.73,0.25)(1.27,0.35)(1,nan)(1.73,0.18)(2.27,0.30)(1,nan)(1.73,0.22)(2.27,0.45)(1,nan)(1.73,0.25)(2.27,0.38)(1,nan)(1.73,0.28)(2.27,0.20)(1,nan)(2.73,0.22)(3.27,0.30)(1,nan)(2.73,0.25)(3.27,0.42)(1,nan)(2.73,0.18)(3.27,0.25)(1,nan)(2.73,0.30)(3.27,0.38)};
\addplot[purp, line width=1pt, opacity=0.9] coordinates {(0.73,0.52)(1.27,0.45)(1,nan)(0.73,0.42)(1.27,0.55)(1,nan)(0.73,0.30)(1.27,0.50)(1,nan)(0.73,0.38)(1.27,0.28)(1,nan)(1.73,0.50)(2.27,0.55)(1,nan)(1.73,0.45)(2.27,0.40)(1,nan)(1.73,0.35)(2.27,0.50)(1,nan)(1.73,0.40)(2.27,0.30)(1,nan)(2.73,0.55)(3.27,0.58)(1,nan)(2.73,0.48)(3.27,0.45)(1,nan)(2.73,0.38)(3.27,0.52)(1,nan)(2.73,0.30)(3.27,0.35)};
\end{axis}

\begin{axis}[base, at={(170.5pt,-251.5pt)}, width=71.5pt, height=87pt, xmin=0.42, xmax=3.5, ymin=-1, ymax=1,
  xtick={1,2,3}, xticklabels={Delta power, Spindle power, {Spindle power\\(controlled for delta)}},
  xticklabel style={rotate=45, anchor=east, align=center},
  ytick={-1,-0.5,0,0.5,1}, yticklabels={-1,-0.5,0,0.5,1}]
\vL{1}{\brl}{white}{vout}\vL{2}{\brl}{white}{vout}\vL{3}{\brl}{white}{vout}
\vR{1}{\brh}{vdark}{vdark}\vR{2}{\brh}{vdark}{vdark}\vR{3}{\brh}{vdark}{vdark}
\addplot[vout, line width=0.6pt] coordinates {(0.755,0.36)(1,0.36)(1,nan)(0.69,0.13)(1,0.13)(1,nan)(0.74,-0.10)(1,-0.10)(1,nan)(1.73,0.30)(2,0.30)(1,nan)(1.69,0.12)(2,0.12)(1,nan)(1.74,-0.10)(2,-0.10)(1,nan)(2.75,0.35)(3,0.35)(1,nan)(2.69,0.12)(3,0.12)(1,nan)(2.73,-0.08)(3,-0.08)};
\addplot[white, line width=0.8pt] coordinates {(1,0.32)(1.30,0.32)(1,nan)(1,0.08)(1.32,0.08)(1,nan)(1,-0.07)(1.27,-0.07)(1,nan)(2,0.30)(2.30,0.30)(1,nan)(2,0.10)(2.32,0.10)(1,nan)(2,-0.08)(2.27,-0.08)(1,nan)(3,0.33)(3.29,0.33)(1,nan)(3,0.10)(3.32,0.10)(1,nan)(3,-0.08)(3.27,-0.08)};
\addplot[orng, line width=1pt, opacity=0.9] coordinates {(0.73,0.10)(1.27,0.00)(1,nan)(0.73,0.05)(1.27,0.15)(1,nan)(0.73,0.15)(1.27,-0.05)(1,nan)(0.73,-0.05)(1.27,0.10)(1,nan)(1.73,0.10)(2.27,0.05)(1,nan)(1.73,0.00)(2.27,0.12)(1,nan)(1.73,0.15)(2.27,-0.03)(1,nan)(1.73,0.08)(2.27,0.15)(1,nan)(2.73,-0.10)(3.27,0.05)(1,nan)(2.73,0.05)(3.27,0.15)(1,nan)(2.73,0.10)(3.27,-0.02)(1,nan)(2.73,0.00)(3.27,0.10)};
\addplot[dteal, line width=1pt, opacity=0.9] coordinates {(0.73,0.00)(1.27,0.20)(1,nan)(0.73,0.05)(1.27,-0.05)(1,nan)(0.73,0.20)(1.27,0.05)(1,nan)(0.73,-0.03)(1.27,0.10)(1,nan)(1.73,-0.05)(2.27,0.25)(1,nan)(1.73,0.10)(2.27,-0.05)(1,nan)(1.73,0.20)(2.27,0.10)(1,nan)(1.73,0.02)(2.27,0.18)(1,nan)(2.73,0.00)(3.27,0.25)(1,nan)(2.73,0.15)(3.27,-0.05)(1,nan)(2.73,0.20)(3.27,0.02)(1,nan)(2.73,-0.03)(3.27,0.12)};
\addplot[purp, line width=1pt, opacity=0.9] coordinates {(0.73,0.45)(1.27,0.45)(1,nan)(0.73,0.35)(1.27,0.40)(1,nan)(0.73,0.15)(1.27,0.10)(1,nan)(0.73,0.10)(1.27,0.20)(1,nan)(1.73,0.45)(2.27,0.45)(1,nan)(1.73,0.35)(2.27,0.38)(1,nan)(1.73,0.10)(2.27,0.15)(1,nan)(1.73,0.05)(2.27,0.00)(1,nan)(2.73,0.48)(3.27,0.50)(1,nan)(2.73,0.38)(3.27,0.40)(1,nan)(2.73,0.12)(3.27,0.05)(1,nan)(2.73,0.05)(3.27,0.15)};
\end{axis}

% ================= PANEL C =================
\begin{axis}[base, at={(289.5pt,-251.5pt)}, width=95pt, height=86pt, xmin=0.41, xmax=4.54, ymin=-1, ymax=1,
  xtick={1,2,3,4}, xticklabels={Ripple amplitude, Ripple firing rate, Unit participation, Duration},
  xticklabel style={rotate=45, anchor=east},
  ytick={-1,-0.5,0,0.5,1}, yticklabels={},
  legend style={at={(2.458,0.494)}, anchor=north west, draw=none, fill=none, font=\fs{10.5},
    row sep=1pt, column sep=5pt, nodes={inner sep=0.5pt, text height=7.5pt, text depth=1.5pt}},
  legend cell align=left,
  legend image code/.code={\draw[#1] (0pt,0pt) -- (20pt,0pt);}]
\addlegendimage{orng, line width=1.5pt}\addlegendentry{Grosmark dataset}
\addlegendimage{dteal, line width=1.5pt}\addlegendentry{Giri dataset}
\addlegendimage{purp, line width=1.5pt}\addlegendentry{Miyawaki dataset}
\vL{1}{\bpl}{white}{vout}\vL{2}{\bpl}{white}{vout}\vL{3}{\bpl}{white}{vout}\vL{4}{\bpl}{white}{vout}
\vR{1}{\bph}{vdark}{vdark}\vR{2}{\bph}{vdark}{vdark}\vR{3}{\bph}{vdark}{vdark}\vR{4}{\bph}{vdark}{vdark}
\addplot[vout, line width=0.6pt] coordinates {(0.66,0.52)(1,0.52)(1,nan)(0.63,0.30)(1,0.30)(1,nan)(0.76,0.05)(1,0.05)(1,nan)(1.66,0.48)(2,0.48)(1,nan)(1.63,0.25)(2,0.25)(1,nan)(1.81,-0.02)(2,-0.02)(1,nan)(2.67,0.55)(3,0.55)(1,nan)(2.63,0.30)(3,0.30)(1,nan)(2.74,0.07)(3,0.07)(1,nan)(3.67,0.55)(4,0.55)(1,nan)(3.63,0.30)(4,0.30)(1,nan)(3.72,0.10)(4,0.10)};
\addplot[white, line width=0.8pt] coordinates {(1,0.68)(1.34,0.68)(1,nan)(1,0.45)(1.33,0.45)(1,nan)(1,0.28)(1.26,0.28)(1,nan)(2,0.68)(2.34,0.68)(1,nan)(2,0.42)(2.31,0.42)(1,nan)(2,0.18)(2.22,0.18)(1,nan)(3,0.65)(3.36,0.65)(1,nan)(3,0.33)(3.27,0.33)(1,nan)(3,0.20)(3.23,0.20)(1,nan)(4,0.62)(4.37,0.62)(1,nan)(4,0.40)(4.30,0.40)(1,nan)(4,0.25)(4.25,0.25)};
\addplot[orng, line width=1pt, opacity=0.9] coordinates {(0.73,0.25)(1.27,0.68)(1,nan)(0.73,0.35)(1.27,0.55)(1,nan)(0.73,0.30)(1.27,0.62)(1,nan)(1.73,0.05)(2.27,0.70)(1,nan)(1.73,0.20)(2.27,0.52)(1,nan)(1.73,0.30)(2.27,0.60)(1,nan)(2.73,0.40)(3.27,0.62)(1,nan)(2.73,0.50)(3.27,0.45)(1,nan)(2.73,0.30)(3.27,0.55)(1,nan)(3.73,0.40)(4.27,0.62)(1,nan)(3.73,0.50)(4.27,0.35)(1,nan)(3.73,0.30)(4.27,0.55)};
\addplot[dteal, line width=1pt, opacity=0.9] coordinates {(0.73,0.25)(1.27,0.40)(1,nan)(0.73,0.20)(1.27,0.30)(1,nan)(0.73,0.30)(1.27,0.35)(1,nan)(1.73,0.22)(2.27,0.40)(1,nan)(1.73,0.30)(2.27,0.25)(1,nan)(1.73,0.25)(2.27,0.35)(1,nan)(2.73,0.30)(3.27,0.35)(1,nan)(2.73,0.25)(3.27,0.28)(1,nan)(2.73,0.35)(3.27,0.45)(1,nan)(3.73,0.28)(4.27,0.40)(1,nan)(3.73,0.35)(4.27,0.25)(1,nan)(3.73,0.25)(4.27,0.32)};
\addplot[purp, line width=1pt, opacity=0.9] coordinates {(0.73,0.45)(1.27,0.50)(1,nan)(0.73,0.35)(1.27,0.25)(1,nan)(0.73,0.50)(1.27,0.55)(1,nan)(0.73,0.20)(1.27,0.45)(1,nan)(1.73,0.40)(2.27,0.50)(1,nan)(1.73,0.15)(2.27,0.45)(1,nan)(1.73,0.35)(2.27,0.35)(1,nan)(2.73,0.45)(3.27,0.55)(1,nan)(2.73,0.20)(3.27,0.50)(1,nan)(2.73,0.35)(3.27,0.25)(1,nan)(3.73,0.50)(4.27,0.55)(1,nan)(3.73,0.40)(4.27,0.30)(1,nan)(3.73,0.25)(4.27,0.45)};
\end{axis}

\begin{axis}[base, at={(411.5pt,-251pt)}, width=95pt, height=85.5pt, xmin=0.35, xmax=4.6, ymin=-1, ymax=1,
  xtick={1,2,3,4}, xticklabels={Ripple amplitude, Ripple firing rate, Unit participation, Duration},
  xticklabel style={rotate=45, anchor=east},
  ytick={-1,-0.5,0,0.5,1}, yticklabels={},
  legend style={at={(1.195,1.088)}, anchor=north west, draw=none, fill=none, font=\fs{10.5},
    row sep=1.5pt, column sep=4pt, nodes={inner sep=0.5pt, text height=7.5pt, text depth=1.5pt}},
  legend cell align=left,
  legend image code/.code={\draw[#1] (0pt,-3.3pt) rectangle (16.5pt,3.3pt);}]
\addlegendimage{fill=vdark, draw=vdark}\addlegendentry{High}
\addlegendimage{fill=white, draw=vout, line width=0.8pt}\addlegendentry{Low}
\vL{1}{\brl}{white}{vout}\vL{2}{\brl}{white}{vout}\vL{3}{\brl}{white}{vout}\vL{4}{\brl}{white}{vout}
\vR{1}{\brh}{vdark}{vdark}\vR{2}{\brh}{vdark}{vdark}\vR{3}{\brh}{vdark}{vdark}\vR{4}{\brh}{vdark}{vdark}
\addplot[vout, line width=0.6pt] coordinates {(0.74,0.33)(1,0.33)(1,nan)(0.69,0.10)(1,0.10)(1,nan)(0.72,-0.07)(1,-0.07)(1,nan)(1.74,0.33)(2,0.33)(1,nan)(1.69,0.12)(2,0.12)(1,nan)(1.72,-0.08)(2,-0.08)(1,nan)(2.74,0.32)(3,0.32)(1,nan)(2.69,0.10)(3,0.10)(1,nan)(2.72,-0.10)(3,-0.10)(1,nan)(3.74,0.32)(4,0.32)(1,nan)(3.69,0.12)(4,0.12)(1,nan)(3.72,-0.07)(4,-0.07)};
\addplot[white, line width=0.8pt] coordinates {(1,0.30)(1.30,0.30)(1,nan)(1,0.10)(1.32,0.10)(1,nan)(1,-0.07)(1.27,-0.07)(1,nan)(2,0.32)(2.30,0.32)(1,nan)(2,0.08)(2.32,0.08)(1,nan)(2,-0.08)(2.27,-0.08)(1,nan)(3,0.28)(3.30,0.28)(1,nan)(3,0.06)(3.32,0.06)(1,nan)(3,-0.06)(3.27,-0.06)(1,nan)(4,0.30)(4.30,0.30)(1,nan)(4,0.08)(4.32,0.08)(1,nan)(4,-0.08)(4.27,-0.08)};
\addplot[orng, line width=1pt, opacity=0.9] coordinates {(0.73,-0.05)(1.27,0.15)(1,nan)(0.73,0.10)(1.27,0.05)(1,nan)(0.73,0.00)(1.27,0.12)(1,nan)(1.73,-0.15)(2.27,0.10)(1,nan)(1.73,0.20)(2.27,0.05)(1,nan)(1.73,0.05)(2.27,0.00)(1,nan)(2.73,0.05)(3.27,0.12)(1,nan)(2.73,0.10)(3.27,0.00)(1,nan)(2.73,-0.05)(3.27,0.08)(1,nan)(3.73,-0.10)(4.27,0.15)(1,nan)(3.73,0.05)(4.27,0.02)(1,nan)(3.73,0.10)(4.27,0.10)};
\addplot[dteal, line width=1pt, opacity=0.9] coordinates {(0.73,0.15)(1.27,0.25)(1,nan)(0.73,0.00)(1.27,0.10)(1,nan)(0.73,0.10)(1.27,0.20)(1,nan)(1.73,0.10)(2.27,0.25)(1,nan)(1.73,0.15)(2.27,0.05)(1,nan)(1.73,0.00)(2.27,0.20)(1,nan)(2.73,0.12)(3.27,0.22)(1,nan)(2.73,0.20)(3.27,0.15)(1,nan)(2.73,0.05)(3.27,0.10)(1,nan)(3.73,0.05)(4.27,0.22)(1,nan)(3.73,0.18)(4.27,0.20)(1,nan)(3.73,0.10)(4.27,0.05)};
\addplot[purp, line width=1pt, opacity=0.9] coordinates {(0.73,0.48)(1.27,0.45)(1,nan)(0.73,0.35)(1.27,0.35)(1,nan)(0.73,0.15)(1.27,0.10)(1,nan)(1.73,0.45)(2.27,0.48)(1,nan)(1.73,0.35)(2.27,0.30)(1,nan)(1.73,0.10)(2.27,0.15)(1,nan)(2.73,0.43)(3.27,0.40)(1,nan)(2.73,0.35)(3.27,0.38)(1,nan)(2.73,0.15)(3.27,0.05)(1,nan)(3.73,0.48)(4.27,0.42)(1,nan)(3.73,0.35)(4.27,0.36)(1,nan)(3.73,0.20)(4.27,0.12)};
\end{axis}

% ================= PANEL D =================
\begin{axis}[base, at={(236pt,-411.5pt)}, width=210.5pt, height=122pt, xmin=0.02, xmax=15.5, ymin=0, ymax=0.7625,
  xtick={1,...,15},
  xticklabels={{\color{lorng}Rat A linear},{\color{lorng}Rat A circular},{\color{lorng}Rat B},{\color{lorng}Rat C},{\color{lorng}Rat G},{\color{lteal}Rat N L-shaped},{\color{lteal}Rat S L-shaped},{\color{lteal}Rat U semicircular},{\color{lteal}Rat V linear},{\color{lteal}Rat V semicircular},{\color{lpurp}Rat R linear},{\color{lpurp}Rat T linear},{\color{lpurp}Rat T L-shaped},{\color{lpurp}Rat T U-shaped},{\color{lpurp}Rat K linear}},
  xticklabel style={rotate=45, anchor=east},
  ytick={0,0.1,0.2,0.3,0.4,0.5,0.6,0.7}, yticklabels={0,0.1,0.2,0.3,0.4,0.5,0.6,0.7},
  grid style={line width=1.6pt, draw=gridc}]
\addplot[dgrey, line width=0.4pt] coordinates {(1,0.1)(1,0.71)(1,nan)(2,0.1)(2,0.67)(1,nan)(3,0.1)(3,0.50)(1,nan)(4,0.1)(4,0.69)(1,nan)(5,0.1)(5,0.44)(1,nan)(6,0.1)(6,0.70)(1,nan)(7,0.1)(7,0.66)(1,nan)(8,0.1)(8,0.52)(1,nan)(9,0.1)(9,0.41)(1,nan)(10,0.1)(10,0.50)(1,nan)(11,0.1)(11,0.71)(1,nan)(12,0.1)(12,0.69)(1,nan)(13,0.1)(13,0.68)(1,nan)(14,0.1)(14,0.68)(1,nan)(15,0.1)(15,0.70)};
\dV{1}{1.65}\dV{2}{1.5}\dV{3}{1.04}\dV{4}{1.1}\dV{5}{1.0}\dV{6}{1.2}\dV{7}{0.73}\dV{8}{1.3}\dV{9}{0.46}\dV{10}{0.6}\dV{11}{1.55}\dV{12}{1.2}\dV{13}{1.08}\dV{14}{1.1}\dV{15}{1.1}
\addplot[white, line width=0.7pt] coordinates {
(0.5,0.143)(1,0.143)(1,nan)(0.56,0.192)(1,0.192)(1,nan)(0.71,0.275)(1,0.275)(1,nan)
(1.5,0.135)(2,0.135)(1,nan)(1.56,0.18)(2,0.18)(1,nan)(1.71,0.255)(2,0.255)(1,nan)
(2.5,0.112)(3,0.112)(1,nan)(2.56,0.143)(3,0.143)(1,nan)(2.71,0.195)(3,0.195)(1,nan)
(3.5,0.115)(4,0.115)(1,nan)(3.56,0.148)(4,0.148)(1,nan)(3.71,0.203)(4,0.203)(1,nan)
(4.5,0.11)(5,0.11)(1,nan)(4.56,0.14)(5,0.14)(1,nan)(4.71,0.19)(5,0.19)(1,nan)
(5.5,0.12)(6,0.12)(1,nan)(5.56,0.156)(6,0.156)(1,nan)(5.71,0.216)(6,0.216)(1,nan)
(6.5,0.097)(7,0.097)(1,nan)(6.56,0.118)(7,0.118)(1,nan)(6.71,0.155)(7,0.155)(1,nan)
(7.5,0.125)(8,0.125)(1,nan)(7.56,0.164)(8,0.164)(1,nan)(7.71,0.229)(8,0.229)(1,nan)
(8.5,0.083)(9,0.083)(1,nan)(8.56,0.097)(9,0.097)(1,nan)(8.71,0.12)(9,0.12)(1,nan)
(9.5,0.09)(10,0.09)(1,nan)(9.56,0.108)(10,0.108)(1,nan)(9.71,0.138)(10,0.138)(1,nan)
(10.5,0.138)(11,0.138)(1,nan)(10.56,0.184)(11,0.184)(1,nan)(10.71,0.262)(11,0.262)(1,nan)
(11.5,0.12)(12,0.12)(1,nan)(11.56,0.156)(12,0.156)(1,nan)(11.71,0.216)(12,0.216)(1,nan)
(12.5,0.114)(13,0.114)(1,nan)(12.56,0.146)(13,0.146)(1,nan)(12.71,0.20)(13,0.20)(1,nan)
(13.5,0.115)(14,0.115)(1,nan)(13.56,0.148)(14,0.148)(1,nan)(13.71,0.203)(14,0.203)(1,nan)
(14.5,0.115)(15,0.115)(1,nan)(14.56,0.148)(15,0.148)(1,nan)(14.71,0.203)(15,0.203)};
\end{axis}

\begin{axis}[base, at={(453.5pt,-411.5pt)}, width=24.5pt, height=122pt, xmin=-1.32, xmax=0.48, ymin=0, ymax=0.7625,
  xtick={0}, xticklabels={\textbf{Pooled}}, xticklabel style={rotate=45, anchor=east, text=axc},
  ytick={0.1,0.2,0.3,0.4,0.5,0.6,0.7}, yticklabels={}, y axis line style={draw=none}, ytick style={draw=none},
  grid style={line width=1.6pt, draw=gridc}]
\addplot[pgrey, line width=0.4pt] coordinates {(0,0.1)(0,0.71)};
\addplot[fill=pgrey, draw=pgrey, line width=0.2pt] table[x expr=-2.2*\thisrow{w}, y expr=0.06+1.35*(\thisrow{y}-0.06)] {\dshape} -- cycle;
\addplot[white, line width=0.8pt] coordinates {(-1.1,0.1)(0,0.1)(1,nan)(-0.97,0.13)(0,0.13)(1,nan)(-0.6,0.2)(0,0.2)};
\end{axis}

% ================= PANEL E =================
\begin{axis}[base, at={(95.75pt,-626.5pt)}, width=60.25pt, height=46.5pt, xmin=-2.5, xmax=2.5, ymin=0, ymax=0.511,
  xtick={-2.5,0.3,2.5}, xticklabels={-2.5,0.3,2.5}, ytick={0,0.5}, yticklabels={0,0.5}, ymajorgrids=false,
  axis line style={line width=1.8pt, draw=axc!80}, tick style={line width=1.6pt, draw=axc!80}]
\addplot[fill=egrey, draw=eout, line width=0.8pt] coordinates {(-2.5,0)(-2.4,0.005)(-1.67,0.06)(-0.81,0.18)(-0.12,0.31)(0.3,0.43)(0.74,0.36)(1.42,0.25)(1.94,0.16)(2.3,0.08)(2.49,0.03)(2.5,0)} \closedcycle;
\addplot[axc!80, line width=1.6pt] coordinates {(0.3,0)(0.3,0.45)};
\addplot[only marks, mark=*, mark size=1.4pt, purp, error bars/.cd, x dir=both, x explicit, error mark=none, error bar style={line width=1pt, purp}] table[x=x, y=y, x error=e] {
x y e
0.4 0.45 0.5
1.01 0.42 0.45
0.76 0.40 0.5
0.5 0.38 0.6
0.84 0.36 0.5
};
\addplot[only marks, mark=*, mark size=1.4pt, dteal, error bars/.cd, x dir=both, x explicit, error mark=none, error bar style={line width=1pt, dteal}] table[x=x, y=y, x error=e] {
x y e
-0.2 0.34 0.6
-0.06 0.31 0.6
-0.54 0.29 0.9
0.5 0.27 0.7
0.02 0.23 0.6
};
\addplot[only marks, mark=*, mark size=1.4pt, orng, error bars/.cd, x dir=both, x explicit, error mark=none, error bar style={line width=1pt, orng}] table[x=x, y=y, x error=e] {
x y e
0.87 0.21 0.6
1.33 0.18 0.6
1.0 0.16 0.9
0.9 0.145 0.8
0.0 0.125 0.9
1.05 0.10 0.6
};
\end{axis}

\begin{axis}[base, at={(231pt,-626.5pt)}, width=62pt, height=46.5pt, xmin=5, xmax=10, ymin=0, ymax=0.511,
  xtick={5,7.1,10}, xticklabels={5,7.1,10}, ytick={0,0.5}, yticklabels={0,0.5}, ymajorgrids=false,
  axis line style={line width=1.8pt, draw=axc!80}, tick style={line width=1.6pt, draw=axc!80}]
\addplot[fill=egrey, draw=eout, line width=0.8pt] coordinates {(5,0)(5.05,0.01)(5.6,0.09)(6.27,0.33)(6.7,0.39)(7.1,0.41)(7.77,0.35)(8.6,0.16)(9.1,0.06)(9.44,0.05)(9.9,0.05)(9.9,0)} \closedcycle;
\addplot[axc!80, line width=1.6pt] coordinates {(7.1,0)(7.1,0.45)};
\addplot[only marks, mark=*, mark size=1.4pt, purp, error bars/.cd, x dir=both, x explicit, error mark=none, error bar style={line width=1pt, purp}] table[x=x, y=y, x error=e] {
x y e
7.3 0.45 0.5
7.15 0.43 0.55
7.05 0.41 0.6
7.2 0.40 0.5
6.9 0.38 0.6
6.6 0.355 0.7
};
\addplot[only marks, mark=*, mark size=1.4pt, dteal, error bars/.cd, x dir=both, x explicit, error mark=none, error bar style={line width=1pt, dteal}] table[x=x, y=y, x error=e] {
x y e
6.6 0.33 0.6
6.9 0.31 0.7
7.9 0.28 0.9
7.0 0.26 0.7
7.0 0.24 0.8
};
\addplot[only marks, mark=*, mark size=1.4pt, orng, error bars/.cd, x dir=both, x explicit, error mark=none, error bar style={line width=1pt, orng}] table[x=x, y=y, x error=e] {
x y e
7.0 0.21 0.6
7.15 0.19 0.6
7.2 0.17 0.6
7.3 0.15 0.6
7.4 0.13 0.7
7.5 0.11 0.7
};
\end{axis}

% ================= PANEL F =================
\begin{axis}[base, at={(71.5pt,-786pt)}, width=48.5pt, height=131pt, xmin=0.45, xmax=2.51, ymin=-1, ymax=1,
  xtick={1,2}, xticklabels={Low,High}, xticklabel style={rotate=45, anchor=east},
  ytick={-1,-0.5,0,0.5,1}, yticklabels={-1,-0.5,0,0.5,1}]
\vF{1}{\fshape}{fgrey}\vF{2}{\fshape}{fgrey}
\addplot[white, line width=2pt] coordinates {(0.68,0.35)(1.32,0.35)(1,nan)(0.68,0.12)(1.32,0.12)(1,nan)(0.68,-0.09)(1.32,-0.09)(1,nan)(1.68,0.38)(2.32,0.38)(1,nan)(1.68,0.15)(2.32,0.15)(1,nan)(1.68,-0.07)(2.32,-0.07)};
\addplot[axc, line width=1.2pt] coordinates {(0.92,1.107)(2.05,1.107)};
\addplot[purp, line width=0.9pt, opacity=0.85] coordinates {(1,0.32)(2,0.22)(1,nan)(1,0.29)(2,0.20)(1,nan)(1,0.27)(2,0.26)(1,nan)(1,0.02)(2,0.25)(1,nan)(1,0.22)(2,0.18)};
\addplot[dteal, line width=0.9pt, opacity=0.85] coordinates {(1,0.20)(2,0.27)(1,nan)(1,0.19)(2,0.12)(1,nan)(1,0.15)(2,0.23)(1,nan)(1,0.10)(2,0.20)(1,nan)(1,0.05)(2,0.25)};
\addplot[orng, line width=0.9pt, opacity=0.85] coordinates {(1,-0.10)(2,-0.09)(1,nan)(1,-0.03)(2,0.00)(1,nan)(1,0.05)(2,0.16)(1,nan)(1,0.08)(2,0.12)(1,nan)(1,0.12)(2,0.06)};
\end{axis}

\begin{axis}[base, at={(131pt,-786pt)}, width=48.5pt, height=131pt, xmin=0.43, xmax=2.49, ymin=-1, ymax=1,
  xtick={1,2}, xticklabels={Low,High}, xticklabel style={rotate=45, anchor=east},
  ytick={-1,-0.5,0,0.5,1}, yticklabels={}]
\vF{1}{\fshape}{fgrey}\vF{2}{\fshape}{fgrey}
\addplot[white, line width=2pt] coordinates {(0.68,0.35)(1.32,0.35)(1,nan)(0.68,0.09)(1.32,0.09)(1,nan)(0.68,-0.08)(1.32,-0.08)(1,nan)(1.68,0.40)(2.32,0.40)(1,nan)(1.68,0.15)(2.32,0.15)(1,nan)(1.68,-0.06)(2.32,-0.06)};
\addplot[axc, line width=1.2pt] coordinates {(0.98,1.107)(2.05,1.107)};
\addplot[purp, line width=0.9pt, opacity=0.85] coordinates {(1,0.30)(2,0.27)(1,nan)(1,0.28)(2,0.22)(1,nan)(1,0.25)(2,0.28)(1,nan)(1,0.20)(2,0.24)};
\addplot[dteal, line width=0.9pt, opacity=0.85] coordinates {(1,0.22)(2,0.23)(1,nan)(1,0.15)(2,0.25)(1,nan)(1,0.12)(2,0.20)(1,nan)(1,0.05)(2,0.18)(1,nan)(1,0.08)(2,0.14)};
\addplot[orng, line width=0.9pt, opacity=0.85] coordinates {(1,-0.07)(2,-0.16)(1,nan)(1,0.02)(2,0.12)(1,nan)(1,0.08)(2,0.10)(1,nan)(1,0.12)(2,0.08)};
\end{axis}

\begin{axis}[base, at={(191.75pt,-786pt)}, width=91.25pt, height=131pt, xmin=0.4, xmax=4.52, ymin=-1, ymax=1,
  xtick={1,2,3,4}, xticklabels={Trough,Ascend,Peak,Descend}, xticklabel style={rotate=45, anchor=east},
  ytick={-1,-0.5,0,0.5,1}, yticklabels={}]
\vF{1}{\fshape}{fgrey}\vF{2}{\fshape}{fgrey}\vF{3}{\fshape}{fgrey}\vF{4}{\fshape}{fgrey}
\addplot[white, line width=2pt] coordinates {(0.68,0.35)(1.32,0.35)(1,nan)(0.68,0.11)(1.32,0.11)(1,nan)(0.68,-0.08)(1.32,-0.08)(1,nan)(1.68,0.34)(2.32,0.34)(1,nan)(1.68,0.11)(2.32,0.11)(1,nan)(1.68,-0.10)(2.32,-0.10)(1,nan)(2.68,0.30)(3.32,0.30)(1,nan)(2.68,0.11)(3.32,0.11)(1,nan)(2.68,-0.11)(3.32,-0.11)(1,nan)(3.68,0.40)(4.32,0.40)(1,nan)(3.68,0.10)(4.32,0.10)(1,nan)(3.68,-0.12)(4.32,-0.12)};
\addplot[axc, line width=1.2pt] coordinates {(0.976,1.107)(4.07,1.107)};
\addplot[purp, line width=0.9pt, opacity=0.85] coordinates {(1,0.20)(2,0.32)(3,0.10)(4,0.18)(1,nan)(1,0.15)(2,0.12)(3,0.35)(4,0.05)(1,nan)(1,0.12)(2,0.25)(3,0.15)(4,0.10)(1,nan)(1,0.10)(2,0.08)(3,0.18)(4,0.05)};
\addplot[dteal, line width=0.9pt, opacity=0.85] coordinates {(1,0.20)(2,0.18)(3,0.17)(4,0.18)(1,nan)(1,0.18)(2,0.15)(3,0.00)(4,0.28)(1,nan)(1,0.15)(2,0.10)(3,0.15)(4,0.22)(1,nan)(1,0.08)(2,0.02)(3,0.12)(4,0.18)(1,nan)(1,0.05)(2,0.06)(3,0.08)(4,0.25)};
\addplot[orng, line width=0.9pt, opacity=0.85] coordinates {(1,0.07)(2,0.02)(3,0.08)(4,0.03)(1,nan)(1,0.03)(2,-0.03)(3,0.00)(4,-0.02)(1,nan)(1,0.05)(2,0.00)(3,-0.05)(4,0.10)(1,nan)(1,0.00)(2,-0.05)(3,0.13)(4,-0.12)(1,nan)(1,0.02)(2,0.00)(3,0.02)(4,0.05)};
\addplot[axc!85, line width=2pt, smooth] coordinates {(0.55,-0.905)(0.75,-0.935)(1.0,-0.948)(1.25,-0.935)(1.5,-0.905)(1.75,-0.85)(2.0,-0.79)(2.25,-0.745)(2.5,-0.715)(2.75,-0.68)(3.0,-0.667)(3.25,-0.68)(3.5,-0.715)(3.75,-0.77)(4.0,-0.83)(4.25,-0.875)(4.45,-0.905)};
\addplot[only marks, mark=*, mark size=2pt, axc] coordinates {(0.55,-0.905)(1.5,-0.905)(2.5,-0.715)(3.5,-0.715)(4.45,-0.905)};
\end{axis}

% ================= PANEL G =================
\begin{axis}[base, at={(372.85pt,-646.35pt)}, width=131pt, height=112pt, xmin=0.48, xmax=7.53, ymin=-1, ymax=1,
  xtick={1,...,7}, xticklabels={0.02,0.05,0.125,0.25,0.5,1,2},
  xticklabel style={rotate=45, anchor=north east, xshift=4pt, font=\fs{9.5}}, yticklabel style={font=\fs{9.5}},
  ytick={-1,-0.5,0,0.5,1}, yticklabels={-1,-0.5,0,0.5,1}]
\gV{1}{0.95}{-0.64}{gblue}\gV{2}{0.95}{-0.73}{gblue}\gV{3}{0.9}{-0.57}{gblue}\gV{4}{0.75}{-0.57}{gblue}\gV{5}{0.83}{-0.64}{gblue}\gV{6}{0.88}{-0.54}{gblue}\gV{7}{0.81}{-0.53}{gblue}
\addplot[white, line width=0.7pt] coordinates {(0.78,0.32)(1.22,0.32)(1,nan)(0.72,0.08)(1.28,0.08)(1,nan)(0.72,-0.15)(1.28,-0.15)(1,nan)(1.78,0.33)(2.22,0.33)(1,nan)(1.72,0.10)(2.28,0.10)(1,nan)(1.72,-0.14)(2.28,-0.14)(1,nan)(2.78,0.30)(3.22,0.30)(1,nan)(2.72,0.09)(3.28,0.09)(1,nan)(2.72,-0.13)(3.28,-0.13)(1,nan)(3.78,0.26)(4.22,0.26)(1,nan)(3.72,0.03)(4.28,0.03)(1,nan)(3.72,-0.14)(4.28,-0.14)(1,nan)(4.78,0.24)(5.22,0.24)(1,nan)(4.72,0.06)(5.28,0.06)(1,nan)(4.72,-0.11)(5.28,-0.11)(1,nan)(5.78,0.27)(6.22,0.27)(1,nan)(5.72,0.07)(6.28,0.07)(1,nan)(5.72,-0.11)(6.28,-0.11)(1,nan)(6.78,0.21)(7.22,0.21)(1,nan)(6.72,0.05)(7.28,0.05)(1,nan)(6.72,-0.13)(7.28,-0.13)};
\end{axis}

\begin{axis}[base, at={(522.5pt,-646.35pt)}, width=131pt, height=112pt, xmin=0.52, xmax=7.54, ymin=-1, ymax=1,
  xtick={1,...,7}, xticklabels={0.02,0.05,0.125,0.25,0.5,1,2},
  xticklabel style={rotate=45, anchor=north east, xshift=4pt, font=\fs{9.5}},
  ytick={-1,-0.5,0,0.5,1}, yticklabels={}]
\gV{1}{0.88}{-0.58}{gpink}\gV{2}{0.95}{-0.78}{gpink}\gV{3}{0.92}{-0.62}{gpink}\gV{4}{0.92}{-0.53}{gpink}\gV{5}{0.9}{-0.53}{gpink}\gV{6}{0.85}{-0.6}{gpink}\gV{7}{0.95}{-0.56}{gpink}
\addplot[white, line width=0.7pt] coordinates {(0.78,0.33)(1.22,0.33)(1,nan)(0.72,0.08)(1.28,0.08)(1,nan)(0.72,-0.13)(1.28,-0.13)(1,nan)(1.78,0.36)(2.22,0.36)(1,nan)(1.72,0.08)(2.28,0.08)(1,nan)(1.72,-0.11)(2.28,-0.11)(1,nan)(2.78,0.34)(3.22,0.34)(1,nan)(2.72,0.11)(3.28,0.11)(1,nan)(2.72,-0.13)(3.28,-0.13)(1,nan)(3.78,0.33)(4.22,0.33)(1,nan)(3.72,0.08)(4.28,0.08)(1,nan)(3.72,-0.12)(4.28,-0.12)(1,nan)(4.78,0.28)(5.22,0.28)(1,nan)(4.72,0.03)(5.28,0.03)(1,nan)(4.72,-0.13)(5.28,-0.13)(1,nan)(5.78,0.27)(6.22,0.27)(1,nan)(5.72,0.01)(6.28,0.01)(1,nan)(5.72,-0.12)(6.28,-0.12)(1,nan)(6.78,0.19)(7.22,0.19)(1,nan)(6.72,0.00)(7.28,0.00)(1,nan)(6.72,-0.14)(7.28,-0.14)};
\end{axis}

% ================= PANEL H =================
\begin{axis}[base, at={(409.5pt,-810pt)}, width=209pt, height=111pt, xmin=0.5, xmax=7.53, ymin=0.07, ymax=1.04,
  xtick={1,...,7}, xticklabels={0.02,0.05,0.125,0.25,0.5,1,2}, tick label style={font=\fs{9.5}, text=tickc},
  ytick={0.2,0.4,0.6,0.8,1.0}, yticklabels={0.2,0.4,0.6,0.8,1.0}]
\vF{0.8}{\hba}{gblue}\vF{1.2}{\hpa}{gpink}\vF{1.8}{\hbb}{gblue}\vF{2.2}{\hpb}{gpink}
\vF{2.8}{\hbc}{gblue}\vF{3.2}{\hpc}{gpink}\vF{3.8}{\hbd}{gblue}\vF{4.2}{\hpd}{gpink}
\vF{4.8}{\hbe}{gblue}\vF{5.2}{\hpe}{gpink}\vF{5.8}{\hbf}{gblue}\vF{6.2}{\hpf}{gpink}
\vF{6.8}{\hbg}{gblue}\vF{7.2}{\hpg}{gpink}
\addplot[white, line width=0.6pt] coordinates {(0.68,0.48)(0.92,0.48)(1,nan)(0.62,0.68)(0.98,0.68)(1,nan)(0.62,0.705)(0.98,0.705)(1,nan)
(1.05,0.54)(1.35,0.54)(1,nan)(1.02,0.66)(1.38,0.66)(1,nan)(1.02,0.72)(1.38,0.72)(1,nan)
(1.68,0.61)(1.92,0.61)(1,nan)(1.65,0.75)(1.95,0.75)(1,nan)(1.65,0.79)(1.95,0.79)(1,nan)
(2.08,0.61)(2.32,0.61)(1,nan)(2.02,0.76)(2.38,0.76)(1,nan)(2.02,0.80)(2.38,0.80)(1,nan)
(2.7,0.77)(2.9,0.77)(1,nan)(2.7,0.835)(2.9,0.835)(1,nan)(2.7,0.90)(2.9,0.90)(1,nan)
(3.12,0.775)(3.28,0.775)(1,nan)(3.06,0.88)(3.34,0.88)(1,nan)(3.06,0.91)(3.34,0.91)(1,nan)
(3.72,0.87)(3.88,0.87)(1,nan)(3.7,0.915)(3.9,0.915)(1,nan)(3.7,0.945)(3.9,0.945)(1,nan)
(4.1,0.935)(4.3,0.935)(1,nan)(4.07,0.955)(4.33,0.955)(1,nan)
(4.72,0.93)(4.88,0.93)(1,nan)(4.7,0.96)(4.9,0.96)(1,nan)
(5.1,0.965)(5.3,0.965)(1,nan)(5.1,0.975)(5.3,0.975)(1,nan)
(5.72,0.96)(5.88,0.96)(1,nan)(5.72,0.97)(5.88,0.97)(1,nan)
(6.08,0.975)(6.32,0.975)(1,nan)(6.7,0.98)(6.9,0.98)(1,nan)(7.1,0.987)(7.3,0.987)};
\end{axis}

% ================= TEXT =================
\tikzset{lbl/.style={font=\fs{15}\bfseries}}
\node[lbl] at (15,17) {a};
\node[lbl] at (30,476) {b};
\node[lbl] at (514,477) {c};
\node[lbl] at (424,806) {d};
\node[lbl] at (60,1233) {e};
\node[lbl] at (60,1448) {f};
\node[lbl] at (674,1233) {g};
\node[lbl] at (674,1613) {h};

\node[rotate=90, align=center, font=\fs{10.5}] at (30,97) {Sleep state\\fraction (\%)};
\node[rotate=90, align=center, font=\fs{11.5}] at (36,215) {Delta\\power};
\node[rotate=90, align=center, font=\fs{11.5}] at (36,333) {Spindle\\power};
\node[font=\fs{11.5}] at (643,430) {Time (hour)};

\node[rotate=90, font=\fs{12}] at (58,592) {{\fs{14}\color{postc}POST}\ \ fidelity};
\node[rotate=90, font=\fs{12}] at (281,590) {{\fs{14}\color{prec}PRE}\ \ fidelity};
\node[rotate=90, font=\fs{12}] at (536,590) {{\fs{14}\color{postc}POST}\ \ fidelity};
\node[rotate=90, font=\fs{12}] at (790,587) {{\fs{14}\color{prec}PRE}\ \ fidelity};

\tikzset{pv/.style={rotate=45, anchor=south west, inner sep=0pt, font=\fs{8.5}}}
\node[pv, font=\fs{8.5}\bfseries] at (132,497) {P<10\textsuperscript{-4}};
\node[pv, font=\fs{8.5}\bfseries] at (178,497) {P<10\textsuperscript{-4}};
\node[pv, font=\fs{8.5}\bfseries] at (225,497) {P<10\textsuperscript{-4}};
\node[pv] at (358,495) {P=0.20};
\node[pv] at (405,495) {P=0.11};
\node[pv] at (451,495) {P=0.42};
\node[pv, font=\fs{8.5}\bfseries] at (597,495) {P<10\textsuperscript{-4}};
\node[pv, font=\fs{8.5}\bfseries] at (643,495) {P<10\textsuperscript{-4}};
\node[pv, font=\fs{8.5}\bfseries] at (689,495) {P<10\textsuperscript{-4}};
\node[pv, font=\fs{8.5}\bfseries] at (735,495) {P<10\textsuperscript{-4}};
\node[pv] at (840,495) {P=0.13};
\node[pv, font=\fs{8.5}\bfseries] at (884,495) {P=0.02};
\node[pv] at (929,495) {P=0.38};
\node[pv] at (974,495) {P=0.29};

\node[rotate=90, font=\fs{12}] at (409,945) {Ripple duration (s)};

\node[rotate=90, font=\fs{12}] at (124,1300) {Probability};
\node[rotate=90, font=\fs{12}] at (390,1300) {Probability};
\node[align=center, font=\fs{11.5}] at (255,1402) {REM theta amplitude\\(Z-score)};
\node[align=center, font=\fs{11.5}] at (521,1402) {REM theta frequency\\(Hz)};

\node[align=center, font=\fs{10.5}] at (205,1500) {Theta\\amplitude};
\node[align=center, font=\fs{10.5}] at (321,1500) {Theta\\frequency};
\node[align=center, font=\fs{10.5}] at (473,1500) {Theta\\phase};
\node[font=\fs{9.5}] at (192,1546) {P = 0.25};
\node[font=\fs{9.5}\bfseries] at (315,1547) {P = 0.02};
\node[font=\fs{9.5}\bfseries] at (473,1546) {P = 0.002};
\node[rotate=90, font=\fs{12}] at (81,1703) {REM LT fidelity};

\node[font=\fs{12.5}, text=prec] at (878,1217) {PRE};
\node[font=\fs{12.5}, text=postc] at (1176,1214) {POST};
\node[rotate=90, font=\fs{12}] at (687,1404) {REM LT fidelity};
\node[font=\fs{11}] at (876,1589) {Bin duration (sec)};
\node[font=\fs{11}] at (1168,1589) {Bin duration (sec)};
\node[pv] at (760,1287) {P=0.535};
\node[pv] at (797,1287) {P=0.116};
\node[pv] at (835,1287) {P=0.260};
\node[pv] at (871,1287) {P=0.406};
\node[pv] at (908,1287) {P=0.087};
\node[pv, font=\fs{8.5}\bfseries] at (946,1287) {P=0.031};
\node[pv] at (983,1287) {P=0.163};
\node[pv, font=\fs{8.5}\bfseries] at (1058,1287) {P=0.015};
\node[pv] at (1096,1287) {P=0.075};
\node[pv, font=\fs{8.5}\bfseries] at (1133,1287) {P=0.002};
\node[pv, font=\fs{8.5}\bfseries] at (1170,1287) {P=0.001};
\node[pv] at (1208,1287) {P=0.120};
\node[pv, font=\fs{8.5}\bfseries] at (1245,1287) {P=0.016};
\node[pv] at (1282,1287) {P=0.192};

\node[rotate=90, align=center, font=\fs{11.5}] at (753,1740) {Posterior average Gini\\coefficient};
\node[font=\fs{11}] at (1025,1893) {Bin duration (sec)};
\end{tikzpicture}
\end{document}
